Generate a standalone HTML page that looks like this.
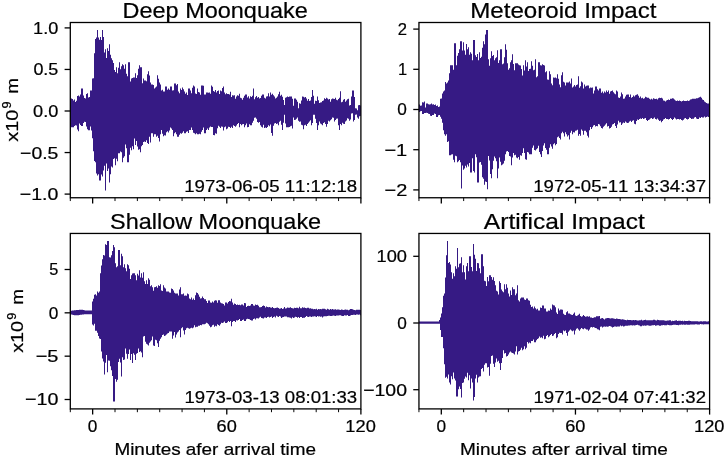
<!DOCTYPE html>
<html><head><meta charset="utf-8"><style>
html,body{margin:0;padding:0;background:#fff;}
svg{display:block;filter:blur(0.35px);}
text{font-family:"Liberation Sans",sans-serif;font-kerning:none;fill:#000;stroke:#000;stroke-width:0.22px;}
</style></head><body>
<svg width="725" height="457" viewBox="0 0 725 457">
<rect width="725" height="457" fill="#fff"/>
<path fill="#361a84" d="M70.30 98.52 L71.00 98.52 L71.00 98.52 L72.00 98.52 L72.00 98.91 L73.00 98.91 L73.00 100.60 L74.00 100.60 L74.00 99.53 L75.00 99.53 L75.00 101.88 L76.00 101.88 L76.00 100.82 L77.00 100.82 L77.00 96.07 L78.00 96.07 L78.00 95.50 L79.00 95.50 L79.00 96.53 L80.00 96.53 L80.00 94.49 L81.00 94.49 L81.00 88.45 L82.00 88.45 L82.00 88.45 L83.00 88.45 L83.00 95.50 L84.00 95.50 L84.00 98.02 L85.00 98.02 L85.00 98.52 L86.00 98.52 L86.00 94.09 L87.00 94.09 L87.00 93.22 L88.00 93.22 L88.00 97.46 L89.00 97.46 L89.00 96.95 L90.00 96.95 L90.00 90.47 L91.00 90.47 L91.00 90.47 L92.00 90.47 L92.00 78.47 L93.00 78.47 L93.00 78.27 L94.00 78.27 L94.00 53.32 L95.00 53.32 L95.00 39.09 L96.00 39.09 L96.00 37.42 L97.00 37.42 L97.00 30.05 L98.00 30.05 L98.00 37.55 L99.00 37.55 L99.00 39.70 L100.00 39.70 L100.00 37.10 L101.00 37.10 L101.00 40.04 L102.00 40.04 L102.00 30.05 L103.00 30.05 L103.00 37.10 L104.00 37.10 L104.00 52.43 L105.00 52.43 L105.00 49.18 L106.00 49.18 L106.00 58.01 L107.00 58.01 L107.00 48.18 L108.00 48.18 L108.00 50.89 L109.00 50.89 L109.00 44.15 L110.00 44.15 L110.00 54.84 L111.00 54.84 L111.00 58.25 L112.00 58.25 L112.00 60.27 L113.00 60.27 L113.00 63.12 L114.00 63.12 L114.00 69.91 L115.00 69.91 L115.00 71.94 L116.00 71.94 L116.00 67.31 L117.00 67.31 L117.00 73.29 L118.00 73.29 L118.00 67.63 L119.00 67.63 L119.00 62.27 L120.00 62.27 L120.00 69.33 L121.00 69.33 L121.00 66.30 L122.00 66.30 L122.00 64.29 L123.00 64.29 L123.00 65.29 L124.00 65.29 L124.00 68.76 L125.00 68.76 L125.00 64.29 L126.00 64.29 L126.00 73.78 L127.00 73.78 L127.00 76.37 L128.00 76.37 L128.00 62.27 L129.00 62.27 L129.00 62.27 L130.00 62.27 L130.00 81.52 L131.00 81.52 L131.00 78.38 L132.00 78.38 L132.00 77.92 L133.00 77.92 L133.00 77.38 L134.00 77.38 L134.00 77.61 L135.00 77.61 L135.00 73.35 L136.00 73.35 L136.00 78.09 L137.00 78.09 L137.00 75.36 L138.00 75.36 L138.00 68.68 L139.00 68.68 L139.00 65.29 L140.00 65.29 L140.00 67.31 L141.00 67.31 L141.00 67.31 L142.00 67.31 L142.00 83.19 L143.00 83.19 L143.00 78.38 L144.00 78.38 L144.00 80.56 L145.00 80.56 L145.00 80.40 L146.00 80.40 L146.00 81.34 L147.00 81.34 L147.00 74.23 L148.00 74.23 L148.00 71.34 L149.00 71.34 L149.00 75.38 L150.00 75.38 L150.00 82.41 L151.00 82.41 L151.00 84.39 L152.00 84.39 L152.00 84.42 L153.00 84.42 L153.00 84.97 L154.00 84.97 L154.00 88.45 L155.00 88.45 L155.00 87.57 L156.00 87.57 L156.00 86.44 L157.00 86.44 L157.00 75.36 L158.00 75.36 L158.00 78.78 L159.00 78.78 L159.00 82.41 L160.00 82.41 L160.00 84.56 L161.00 84.56 L161.00 90.47 L162.00 90.47 L162.00 89.78 L163.00 89.78 L163.00 91.47 L164.00 91.47 L164.00 91.48 L165.00 91.48 L165.00 86.44 L166.00 86.44 L166.00 86.44 L167.00 86.44 L167.00 89.72 L168.00 89.72 L168.00 88.45 L169.00 88.45 L169.00 89.76 L170.00 89.76 L170.00 86.44 L171.00 86.44 L171.00 86.44 L172.00 86.44 L172.00 90.47 L173.00 90.47 L173.00 90.31 L174.00 90.31 L174.00 83.42 L175.00 83.42 L175.00 83.42 L176.00 83.42 L176.00 85.23 L177.00 85.23 L177.00 83.92 L178.00 83.92 L178.00 91.47 L179.00 91.47 L179.00 93.23 L180.00 93.23 L180.00 88.45 L181.00 88.45 L181.00 90.02 L182.00 90.02 L182.00 87.45 L183.00 87.45 L183.00 89.27 L184.00 89.27 L184.00 91.47 L185.00 91.47 L185.00 93.77 L186.00 93.77 L186.00 92.48 L187.00 92.48 L187.00 95.03 L188.00 95.03 L188.00 88.45 L189.00 88.45 L189.00 88.45 L190.00 88.45 L190.00 90.47 L191.00 90.47 L191.00 93.35 L192.00 93.35 L192.00 87.82 L193.00 87.82 L193.00 85.43 L194.00 85.43 L194.00 86.43 L195.00 86.43 L195.00 93.49 L196.00 93.49 L196.00 93.96 L197.00 93.96 L197.00 88.45 L198.00 88.45 L198.00 91.89 L199.00 91.89 L199.00 92.48 L200.00 92.48 L200.00 94.72 L201.00 94.72 L201.00 85.43 L202.00 85.43 L202.00 85.43 L203.00 85.43 L203.00 85.63 L204.00 85.63 L204.00 94.49 L205.00 94.49 L205.00 94.42 L206.00 94.42 L206.00 92.48 L207.00 92.48 L207.00 92.48 L208.00 92.48 L208.00 92.86 L209.00 92.86 L209.00 92.48 L210.00 92.48 L210.00 93.64 L211.00 93.64 L211.00 85.43 L212.00 85.43 L212.00 86.69 L213.00 86.69 L213.00 90.98 L214.00 90.98 L214.00 91.79 L215.00 91.79 L215.00 89.88 L216.00 89.88 L216.00 92.50 L217.00 92.50 L217.00 90.95 L218.00 90.95 L218.00 90.53 L219.00 90.53 L219.00 94.01 L220.00 94.01 L220.00 90.53 L221.00 90.53 L221.00 91.19 L222.00 91.19 L222.00 87.91 L223.00 87.91 L223.00 86.59 L224.00 86.59 L224.00 92.50 L225.00 92.50 L225.00 94.28 L226.00 94.28 L226.00 93.16 L227.00 93.16 L227.00 94.07 L228.00 94.07 L228.00 94.08 L229.00 94.08 L229.00 94.47 L230.00 94.47 L230.00 91.85 L231.00 91.85 L231.00 97.07 L232.00 97.07 L232.00 95.13 L233.00 95.13 L233.00 95.47 L234.00 95.47 L234.00 95.13 L235.00 95.13 L235.00 98.68 L236.00 98.68 L236.00 96.44 L237.00 96.44 L237.00 95.13 L238.00 95.13 L238.00 95.68 L239.00 95.68 L239.00 93.82 L240.00 93.82 L240.00 97.75 L241.00 97.75 L241.00 98.27 L242.00 98.27 L242.00 99.86 L243.00 99.86 L243.00 97.69 L244.00 97.69 L244.00 95.78 L245.00 95.78 L245.00 94.47 L246.00 94.47 L246.00 94.58 L247.00 94.58 L247.00 97.48 L248.00 97.48 L248.00 96.17 L249.00 96.17 L249.00 98.41 L250.00 98.41 L250.00 96.25 L251.00 96.25 L251.00 97.10 L252.00 97.10 L252.00 95.78 L253.00 95.78 L253.00 88.56 L254.00 88.56 L254.00 99.27 L255.00 99.27 L255.00 97.30 L256.00 97.30 L256.00 95.90 L257.00 95.90 L257.00 97.75 L258.00 97.75 L258.00 96.96 L259.00 96.96 L259.00 98.61 L260.00 98.61 L260.00 97.92 L261.00 97.92 L261.00 95.66 L262.00 95.66 L262.00 94.47 L263.00 94.47 L263.00 94.47 L264.00 94.47 L264.00 97.75 L265.00 97.75 L265.00 98.41 L266.00 98.41 L266.00 96.40 L267.00 96.40 L267.00 96.32 L268.00 96.32 L268.00 93.27 L269.00 93.27 L269.00 96.44 L270.00 96.44 L270.00 92.50 L271.00 92.50 L271.00 94.81 L272.00 94.81 L272.00 93.82 L273.00 93.82 L273.00 95.13 L274.00 95.13 L274.00 96.44 L275.00 96.44 L275.00 98.59 L276.00 98.59 L276.00 97.75 L277.00 97.75 L277.00 96.44 L278.00 96.44 L278.00 94.26 L279.00 94.26 L279.00 91.85 L280.00 91.85 L280.00 95.77 L281.00 95.77 L281.00 94.71 L282.00 94.71 L282.00 96.87 L283.00 96.87 L283.00 100.12 L284.00 100.12 L284.00 104.97 L285.00 104.97 L285.00 97.75 L286.00 97.75 L286.00 97.17 L287.00 97.17 L287.00 96.44 L288.00 96.44 L288.00 97.10 L289.00 97.10 L289.00 96.44 L290.00 96.44 L290.00 96.44 L291.00 96.44 L291.00 96.44 L292.00 96.44 L292.00 98.79 L293.00 98.79 L293.00 105.63 L294.00 105.63 L294.00 98.41 L295.00 98.41 L295.00 98.41 L296.00 98.41 L296.00 99.72 L297.00 99.72 L297.00 101.69 L298.00 101.69 L298.00 108.26 L299.00 108.26 L299.00 103.19 L300.00 103.19 L300.00 103.66 L301.00 103.66 L301.00 100.38 L302.00 100.38 L302.00 96.44 L303.00 96.44 L303.00 96.78 L304.00 96.78 L304.00 97.57 L305.00 97.57 L305.00 97.10 L306.00 97.10 L306.00 98.41 L307.00 98.41 L307.00 100.79 L308.00 100.79 L308.00 99.07 L309.00 99.07 L309.00 101.04 L310.00 101.04 L310.00 100.38 L311.00 100.38 L311.00 96.99 L312.00 96.99 L312.00 89.88 L313.00 89.88 L313.00 95.78 L314.00 95.78 L314.00 103.66 L315.00 103.66 L315.00 100.84 L316.00 100.84 L316.00 101.03 L317.00 101.03 L317.00 96.44 L318.00 96.44 L318.00 100.26 L319.00 100.26 L319.00 103.01 L320.00 103.01 L320.00 102.39 L321.00 102.39 L321.00 102.33 L322.00 102.33 L322.00 101.04 L323.00 101.04 L323.00 100.38 L324.00 100.38 L324.00 98.17 L325.00 98.17 L325.00 99.07 L326.00 99.07 L326.00 97.75 L327.00 97.75 L327.00 98.41 L328.00 98.41 L328.00 99.52 L329.00 99.52 L329.00 99.00 L330.00 99.00 L330.00 101.69 L331.00 101.69 L331.00 99.29 L332.00 99.29 L332.00 98.41 L333.00 98.41 L333.00 98.86 L334.00 98.86 L334.00 99.07 L335.00 99.07 L335.00 97.75 L336.00 97.75 L336.00 99.72 L337.00 99.72 L337.00 100.26 L338.00 100.26 L338.00 99.07 L339.00 99.07 L339.00 97.73 L340.00 97.73 L340.00 91.19 L341.00 91.19 L341.00 102.19 L342.00 102.19 L342.00 101.69 L343.00 101.69 L343.00 99.72 L344.00 99.72 L344.00 99.07 L345.00 99.07 L345.00 101.79 L346.00 101.79 L346.00 100.38 L347.00 100.38 L347.00 99.30 L348.00 99.30 L348.00 98.72 L349.00 98.72 L349.00 105.45 L350.00 105.45 L350.00 104.97 L351.00 104.97 L351.00 96.44 L352.00 96.44 L352.00 90.53 L353.00 90.53 L353.00 90.53 L354.00 90.53 L354.00 96.93 L355.00 96.93 L355.00 108.26 L356.00 108.26 L356.00 108.40 L357.00 108.40 L357.00 110.20 L358.00 110.20 L358.00 105.25 L359.00 105.25 L359.00 104.97 L360.00 104.97 L360.00 105.43 L360.90 105.43 L360.90 115.96 L360.00 115.96 L360.00 116.13 L359.00 116.13 L359.00 118.76 L358.00 118.76 L358.00 117.45 L357.00 117.45 L357.00 114.44 L356.00 114.44 L356.00 114.82 L355.00 114.82 L355.00 120.07 L354.00 120.07 L354.00 121.39 L353.00 121.39 L353.00 113.34 L352.00 113.34 L352.00 113.51 L351.00 113.51 L351.00 119.42 L350.00 119.42 L350.00 120.73 L349.00 120.73 L349.00 118.76 L348.00 118.76 L348.00 118.37 L347.00 118.37 L347.00 120.51 L346.00 120.51 L346.00 121.39 L345.00 121.39 L345.00 124.01 L344.00 124.01 L344.00 123.84 L343.00 123.84 L343.00 122.70 L342.00 122.70 L342.00 125.32 L341.00 125.32 L341.00 124.01 L340.00 124.01 L340.00 129.92 L339.00 129.92 L339.00 125.32 L338.00 125.32 L338.00 118.62 L337.00 118.62 L337.00 118.76 L336.00 118.76 L336.00 120.07 L335.00 120.07 L335.00 121.39 L334.00 121.39 L334.00 117.77 L333.00 117.77 L333.00 117.45 L332.00 117.45 L332.00 119.27 L331.00 119.27 L331.00 120.36 L330.00 120.36 L330.00 121.39 L329.00 121.39 L329.00 120.76 L328.00 120.76 L328.00 124.01 L327.00 124.01 L327.00 126.64 L326.00 126.64 L326.00 124.01 L325.00 124.01 L325.00 122.27 L324.00 122.27 L324.00 122.91 L323.00 122.91 L323.00 125.32 L322.00 125.32 L322.00 124.27 L321.00 124.27 L321.00 123.62 L320.00 123.62 L320.00 121.39 L319.00 121.39 L319.00 125.32 L318.00 125.32 L318.00 129.92 L317.00 129.92 L317.00 122.88 L316.00 122.88 L316.00 118.79 L315.00 118.79 L315.00 114.80 L314.00 114.80 L314.00 114.82 L313.00 114.82 L313.00 123.12 L312.00 123.12 L312.00 125.32 L311.00 125.32 L311.00 120.30 L310.00 120.30 L310.00 121.39 L309.00 121.39 L309.00 122.81 L308.00 122.81 L308.00 124.01 L307.00 124.01 L307.00 125.98 L306.00 125.98 L306.00 124.79 L305.00 124.79 L305.00 125.32 L304.00 125.32 L304.00 129.26 L303.00 129.26 L303.00 125.32 L302.00 125.32 L302.00 124.65 L301.00 124.65 L301.00 121.39 L300.00 121.39 L300.00 121.72 L299.00 121.72 L299.00 120.73 L298.00 120.73 L298.00 117.45 L297.00 117.45 L297.00 118.76 L296.00 118.76 L296.00 119.76 L295.00 119.76 L295.00 120.07 L294.00 120.07 L294.00 117.53 L293.00 117.53 L293.00 128.61 L292.00 128.61 L292.00 125.63 L291.00 125.63 L291.00 126.20 L290.00 126.20 L290.00 126.99 L289.00 126.99 L289.00 127.29 L288.00 127.29 L288.00 127.13 L287.00 127.13 L287.00 127.29 L286.00 127.29 L286.00 123.56 L285.00 123.56 L285.00 114.82 L284.00 114.82 L284.00 122.70 L283.00 122.70 L283.00 129.92 L282.00 129.92 L282.00 124.71 L281.00 124.71 L281.00 120.71 L280.00 120.71 L280.00 121.87 L279.00 121.87 L279.00 125.32 L278.00 125.32 L278.00 123.50 L277.00 123.50 L277.00 124.01 L276.00 124.01 L276.00 123.00 L275.00 123.00 L275.00 123.48 L274.00 123.48 L274.00 125.79 L273.00 125.79 L273.00 135.83 L272.00 135.83 L272.00 133.02 L271.00 133.02 L271.00 124.38 L270.00 124.38 L270.00 126.24 L269.00 126.24 L269.00 125.32 L268.00 125.32 L268.00 126.88 L267.00 126.88 L267.00 127.95 L266.00 127.95 L266.00 127.40 L265.00 127.40 L265.00 127.95 L264.00 127.95 L264.00 124.86 L263.00 124.86 L263.00 127.60 L262.00 127.60 L262.00 126.64 L261.00 126.64 L261.00 125.32 L260.00 125.32 L260.00 122.08 L259.00 122.08 L259.00 122.70 L258.00 122.70 L258.00 121.89 L257.00 121.89 L257.00 118.76 L256.00 118.76 L256.00 117.45 L255.00 117.45 L255.00 117.67 L254.00 117.67 L254.00 120.73 L253.00 120.73 L253.00 122.70 L252.00 122.70 L252.00 125.32 L251.00 125.32 L251.00 125.22 L250.00 125.22 L250.00 124.19 L249.00 124.19 L249.00 127.11 L248.00 127.11 L248.00 127.29 L247.00 127.29 L247.00 123.40 L246.00 123.40 L246.00 125.32 L245.00 125.32 L245.00 127.29 L244.00 127.29 L244.00 124.01 L243.00 124.01 L243.00 124.21 L242.00 124.21 L242.00 125.32 L241.00 125.32 L241.00 124.01 L240.00 124.01 L240.00 127.29 L239.00 127.29 L239.00 122.92 L238.00 122.92 L238.00 124.01 L237.00 124.01 L237.00 125.59 L236.00 125.59 L236.00 126.64 L235.00 126.64 L235.00 125.98 L234.00 125.98 L234.00 125.29 L233.00 125.29 L233.00 127.95 L232.00 127.95 L232.00 126.64 L231.00 126.64 L231.00 127.95 L230.00 127.95 L230.00 127.12 L229.00 127.12 L229.00 126.64 L228.00 126.64 L228.00 128.61 L227.00 128.61 L227.00 129.29 L226.00 129.29 L226.00 126.49 L225.00 126.49 L225.00 127.29 L224.00 127.29 L224.00 130.58 L223.00 130.58 L223.00 126.64 L222.00 126.64 L222.00 126.49 L221.00 126.49 L221.00 127.95 L220.00 127.95 L220.00 126.64 L219.00 126.64 L219.00 125.67 L218.00 125.67 L218.00 128.17 L217.00 128.17 L217.00 133.86 L216.00 133.86 L216.00 133.20 L215.00 133.20 L215.00 135.28 L214.00 135.28 L214.00 135.06 L213.00 135.06 L213.00 127.03 L212.00 127.03 L212.00 127.00 L211.00 127.00 L211.00 126.48 L210.00 126.48 L210.00 127.52 L209.00 127.52 L209.00 130.10 L208.00 130.10 L208.00 128.55 L207.00 128.55 L207.00 130.10 L206.00 130.10 L206.00 133.21 L205.00 133.21 L205.00 133.21 L204.00 133.21 L204.00 127.52 L203.00 127.52 L203.00 130.10 L202.00 130.10 L202.00 131.65 L201.00 131.65 L201.00 134.24 L200.00 134.24 L200.00 133.72 L199.00 133.72 L199.00 134.24 L198.00 134.24 L198.00 134.24 L197.00 134.24 L197.00 133.21 L196.00 133.21 L196.00 134.24 L195.00 134.24 L195.00 133.21 L194.00 133.21 L194.00 132.69 L193.00 132.69 L193.00 130.10 L192.00 130.10 L192.00 127.52 L191.00 127.52 L191.00 130.12 L190.00 130.12 L190.00 130.10 L189.00 130.10 L189.00 133.10 L188.00 133.10 L188.00 131.14 L187.00 131.14 L187.00 131.65 L186.00 131.65 L186.00 133.21 L185.00 133.21 L185.00 133.21 L184.00 133.21 L184.00 131.28 L183.00 131.28 L183.00 132.69 L182.00 132.69 L182.00 133.72 L181.00 133.72 L181.00 133.21 L180.00 133.21 L180.00 134.76 L179.00 134.76 L179.00 136.83 L178.00 136.83 L178.00 136.83 L177.00 136.83 L177.00 134.24 L176.00 134.24 L176.00 132.17 L175.00 132.17 L175.00 133.21 L174.00 133.21 L174.00 136.31 L173.00 136.31 L173.00 130.10 L172.00 130.10 L172.00 128.55 L171.00 128.55 L171.00 127.58 L170.00 127.58 L170.00 130.62 L169.00 130.62 L169.00 132.62 L168.00 132.62 L168.00 131.14 L167.00 131.14 L167.00 132.17 L166.00 132.17 L166.00 135.46 L165.00 135.46 L165.00 135.28 L164.00 135.28 L164.00 136.31 L163.00 136.31 L163.00 133.72 L162.00 133.72 L162.00 130.10 L161.00 130.10 L161.00 134.24 L160.00 134.24 L160.00 141.48 L159.00 141.48 L159.00 137.99 L158.00 137.99 L158.00 135.79 L157.00 135.79 L157.00 136.83 L156.00 136.83 L156.00 134.29 L155.00 134.29 L155.00 134.24 L154.00 134.24 L154.00 136.83 L153.00 136.83 L153.00 133.28 L152.00 133.28 L152.00 133.33 L151.00 133.33 L151.00 142.52 L150.00 142.52 L150.00 136.83 L149.00 136.83 L149.00 144.07 L148.00 144.07 L148.00 143.03 L147.00 143.03 L147.00 140.19 L146.00 140.19 L146.00 142.00 L145.00 142.00 L145.00 141.48 L144.00 141.48 L144.00 142.11 L143.00 142.11 L143.00 145.10 L142.00 145.10 L142.00 146.14 L141.00 146.14 L141.00 152.34 L140.00 152.34 L140.00 149.28 L139.00 149.28 L139.00 149.76 L138.00 149.76 L138.00 146.39 L137.00 146.39 L137.00 140.88 L136.00 140.88 L136.00 144.96 L135.00 144.96 L135.00 138.57 L134.00 138.57 L134.00 149.15 L133.00 149.15 L133.00 146.16 L132.00 146.16 L132.00 150.29 L131.00 150.29 L131.00 147.77 L130.00 147.77 L130.00 154.85 L129.00 154.85 L129.00 162.37 L128.00 162.37 L128.00 162.37 L127.00 162.37 L127.00 148.27 L126.00 148.27 L126.00 144.50 L125.00 144.50 L125.00 156.33 L124.00 156.33 L124.00 157.72 L123.00 157.72 L123.00 162.37 L122.00 162.37 L122.00 152.30 L121.00 152.30 L121.00 151.44 L120.00 151.44 L120.00 153.31 L119.00 153.31 L119.00 153.22 L118.00 153.22 L118.00 161.36 L117.00 161.36 L117.00 158.73 L116.00 158.73 L116.00 165.27 L115.00 165.27 L115.00 158.34 L114.00 158.34 L114.00 159.04 L113.00 159.04 L113.00 167.55 L112.00 167.55 L112.00 166.56 L111.00 166.56 L111.00 174.13 L110.00 174.13 L110.00 182.51 L109.00 182.51 L109.00 168.41 L108.00 168.41 L108.00 171.02 L107.00 171.02 L107.00 163.52 L106.00 163.52 L106.00 190.56 L105.00 190.56 L105.00 165.83 L104.00 165.83 L104.00 170.42 L103.00 170.42 L103.00 176.47 L102.00 176.47 L102.00 174.38 L101.00 174.38 L101.00 180.49 L100.00 180.49 L100.00 180.49 L99.00 180.49 L99.00 174.20 L98.00 174.20 L98.00 175.46 L97.00 175.46 L97.00 173.45 L96.00 173.45 L96.00 162.37 L95.00 162.37 L95.00 160.91 L94.00 160.91 L94.00 151.29 L93.00 151.29 L93.00 138.20 L92.00 138.20 L92.00 130.44 L91.00 130.44 L91.00 126.45 L90.00 126.45 L90.00 130.15 L89.00 130.15 L89.00 130.15 L88.00 130.15 L88.00 129.20 L87.00 129.20 L87.00 126.61 L86.00 126.61 L86.00 122.10 L85.00 122.10 L85.00 121.75 L84.00 121.75 L84.00 123.10 L83.00 123.10 L83.00 126.12 L82.00 126.12 L82.00 126.12 L81.00 126.12 L81.00 124.88 L80.00 124.88 L80.00 123.47 L79.00 123.47 L79.00 131.16 L78.00 131.16 L78.00 129.55 L77.00 129.55 L77.00 125.43 L76.00 125.43 L76.00 125.30 L75.00 125.30 L75.00 126.12 L74.00 126.12 L74.00 127.13 L73.00 127.13 L73.00 127.13 L72.00 127.13 L72.00 127.13 L71.00 127.13 L71.00 126.12 L70.30 126.12Z"/>
<path fill="#361a84" d="M418.95 104.56 L419.00 104.56 L419.00 104.56 L420.00 104.56 L420.00 105.65 L421.00 105.65 L421.00 105.57 L422.00 105.57 L422.00 102.28 L423.00 102.28 L423.00 102.55 L424.00 102.55 L424.00 101.54 L425.00 101.54 L425.00 107.58 L426.00 107.58 L426.00 103.39 L427.00 103.39 L427.00 103.55 L428.00 103.55 L428.00 104.18 L429.00 104.18 L429.00 104.56 L430.00 104.56 L430.00 104.24 L431.00 104.24 L431.00 103.55 L432.00 103.55 L432.00 104.39 L433.00 104.39 L433.00 104.17 L434.00 104.17 L434.00 105.08 L435.00 105.08 L435.00 104.56 L436.00 104.56 L436.00 105.92 L437.00 105.92 L437.00 105.53 L438.00 105.53 L438.00 106.88 L439.00 106.88 L439.00 106.58 L440.00 106.58 L440.00 98.66 L441.00 98.66 L441.00 98.52 L442.00 98.52 L442.00 93.49 L443.00 93.49 L443.00 91.61 L444.00 91.61 L444.00 90.47 L445.00 90.47 L445.00 82.03 L446.00 82.03 L446.00 83.42 L447.00 83.42 L447.00 82.41 L448.00 82.41 L448.00 80.40 L449.00 80.40 L449.00 73.35 L450.00 73.35 L450.00 65.29 L451.00 65.29 L451.00 65.29 L452.00 65.29 L452.00 65.29 L453.00 65.29 L453.00 69.66 L454.00 69.66 L454.00 43.14 L455.00 43.14 L455.00 43.14 L456.00 43.14 L456.00 65.29 L457.00 65.29 L457.00 55.68 L458.00 55.68 L458.00 52.91 L459.00 52.91 L459.00 49.33 L460.00 49.33 L460.00 41.13 L461.00 41.13 L461.00 41.13 L462.00 41.13 L462.00 50.40 L463.00 50.40 L463.00 42.14 L464.00 42.14 L464.00 50.48 L465.00 50.48 L465.00 54.63 L466.00 54.63 L466.00 44.12 L467.00 44.12 L467.00 49.26 L468.00 49.26 L468.00 47.17 L469.00 47.17 L469.00 54.78 L470.00 54.78 L470.00 52.21 L471.00 52.21 L471.00 53.72 L472.00 53.72 L472.00 60.26 L473.00 60.26 L473.00 40.12 L474.00 40.12 L474.00 40.12 L475.00 40.12 L475.00 55.16 L476.00 55.16 L476.00 56.94 L477.00 56.94 L477.00 53.95 L478.00 53.95 L478.00 60.16 L479.00 60.16 L479.00 52.21 L480.00 52.21 L480.00 58.01 L481.00 58.01 L481.00 56.84 L482.00 56.84 L482.00 47.75 L483.00 47.75 L483.00 41.13 L484.00 41.13 L484.00 44.25 L485.00 44.25 L485.00 34.40 L486.00 34.40 L486.00 30.05 L487.00 30.05 L487.00 30.05 L488.00 30.05 L488.00 59.25 L489.00 59.25 L489.00 65.87 L490.00 65.87 L490.00 58.25 L491.00 58.25 L491.00 51.20 L492.00 51.20 L492.00 55.95 L493.00 55.95 L493.00 55.12 L494.00 55.12 L494.00 60.18 L495.00 60.18 L495.00 58.15 L496.00 58.15 L496.00 57.14 L497.00 57.14 L497.00 50.19 L498.00 50.19 L498.00 63.08 L499.00 63.08 L499.00 60.26 L500.00 60.26 L500.00 49.18 L501.00 49.18 L501.00 49.18 L502.00 49.18 L502.00 64.29 L503.00 64.29 L503.00 63.40 L504.00 63.40 L504.00 57.24 L505.00 57.24 L505.00 44.15 L506.00 44.15 L506.00 49.86 L507.00 49.86 L507.00 63.16 L508.00 63.16 L508.00 69.66 L509.00 69.66 L509.00 68.31 L510.00 68.31 L510.00 62.31 L511.00 62.31 L511.00 60.26 L512.00 60.26 L512.00 54.22 L513.00 54.22 L513.00 63.88 L514.00 63.88 L514.00 70.29 L515.00 70.29 L515.00 63.28 L516.00 63.28 L516.00 63.28 L517.00 63.28 L517.00 63.28 L518.00 63.28 L518.00 64.58 L519.00 64.58 L519.00 65.29 L520.00 65.29 L520.00 65.60 L521.00 65.60 L521.00 69.10 L522.00 69.10 L522.00 75.39 L523.00 75.39 L523.00 65.29 L524.00 65.29 L524.00 70.58 L525.00 70.58 L525.00 60.26 L526.00 60.26 L526.00 66.48 L527.00 66.48 L527.00 62.27 L528.00 62.27 L528.00 70.92 L529.00 70.92 L529.00 69.01 L530.00 69.01 L530.00 68.78 L531.00 68.78 L531.00 61.27 L532.00 61.27 L532.00 65.87 L533.00 65.87 L533.00 70.33 L534.00 70.33 L534.00 69.71 L535.00 69.71 L535.00 59.25 L536.00 59.25 L536.00 77.18 L537.00 77.18 L537.00 76.37 L538.00 76.37 L538.00 62.27 L539.00 62.27 L539.00 62.27 L540.00 62.27 L540.00 65.29 L541.00 65.29 L541.00 65.47 L542.00 65.47 L542.00 64.29 L543.00 64.29 L543.00 65.09 L544.00 65.09 L544.00 65.50 L545.00 65.50 L545.00 72.34 L546.00 72.34 L546.00 71.26 L547.00 71.26 L547.00 79.39 L548.00 79.39 L548.00 79.86 L549.00 79.86 L549.00 71.34 L550.00 71.34 L550.00 74.25 L551.00 74.25 L551.00 83.42 L552.00 83.42 L552.00 85.18 L553.00 85.18 L553.00 77.38 L554.00 77.38 L554.00 77.82 L555.00 77.82 L555.00 77.38 L556.00 77.38 L556.00 78.29 L557.00 78.29 L557.00 74.36 L558.00 74.36 L558.00 78.83 L559.00 78.83 L559.00 84.42 L560.00 84.42 L560.00 87.33 L561.00 87.33 L561.00 75.16 L562.00 75.16 L562.00 72.34 L563.00 72.34 L563.00 81.73 L564.00 81.73 L564.00 82.41 L565.00 82.41 L565.00 85.49 L566.00 85.49 L566.00 82.58 L567.00 82.58 L567.00 82.41 L568.00 82.41 L568.00 82.41 L569.00 82.41 L569.00 81.55 L570.00 81.55 L570.00 83.42 L571.00 83.42 L571.00 78.38 L572.00 78.38 L572.00 87.58 L573.00 87.58 L573.00 86.44 L574.00 86.44 L574.00 84.88 L575.00 84.88 L575.00 86.44 L576.00 86.44 L576.00 85.01 L577.00 85.01 L577.00 84.42 L578.00 84.42 L578.00 76.37 L579.00 76.37 L579.00 87.80 L580.00 87.80 L580.00 86.13 L581.00 86.13 L581.00 81.41 L582.00 81.41 L582.00 82.41 L583.00 82.41 L583.00 88.42 L584.00 88.42 L584.00 84.42 L585.00 84.42 L585.00 86.48 L586.00 86.48 L586.00 85.63 L587.00 85.63 L587.00 85.43 L588.00 85.43 L588.00 85.43 L589.00 85.43 L589.00 88.24 L590.00 88.24 L590.00 87.45 L591.00 87.45 L591.00 87.84 L592.00 87.84 L592.00 87.45 L593.00 87.45 L593.00 93.50 L594.00 93.50 L594.00 90.47 L595.00 90.47 L595.00 86.44 L596.00 86.44 L596.00 86.44 L597.00 86.44 L597.00 89.32 L598.00 89.32 L598.00 90.47 L599.00 90.47 L599.00 88.45 L600.00 88.45 L600.00 88.45 L601.00 88.45 L601.00 92.87 L602.00 92.87 L602.00 91.47 L603.00 91.47 L603.00 93.15 L604.00 93.15 L604.00 91.47 L605.00 91.47 L605.00 92.49 L606.00 92.49 L606.00 90.47 L607.00 90.47 L607.00 91.97 L608.00 91.97 L608.00 90.47 L609.00 90.47 L609.00 93.70 L610.00 93.70 L610.00 91.47 L611.00 91.47 L611.00 91.06 L612.00 91.06 L612.00 90.47 L613.00 90.47 L613.00 92.23 L614.00 92.23 L614.00 93.49 L615.00 93.49 L615.00 94.16 L616.00 94.16 L616.00 90.47 L617.00 90.47 L617.00 91.54 L618.00 91.54 L618.00 97.51 L619.00 97.51 L619.00 97.99 L620.00 97.99 L620.00 96.51 L621.00 96.51 L621.00 92.48 L622.00 92.48 L622.00 94.29 L623.00 94.29 L623.00 98.82 L624.00 98.82 L624.00 98.52 L625.00 98.52 L625.00 96.50 L626.00 96.50 L626.00 94.71 L627.00 94.71 L627.00 94.49 L628.00 94.49 L628.00 94.49 L629.00 94.49 L629.00 96.89 L630.00 96.89 L630.00 94.49 L631.00 94.49 L631.00 97.86 L632.00 97.86 L632.00 97.07 L633.00 97.07 L633.00 95.48 L634.00 95.48 L634.00 96.51 L635.00 96.51 L635.00 95.24 L636.00 95.24 L636.00 94.72 L637.00 94.72 L637.00 94.21 L638.00 94.21 L638.00 95.64 L639.00 95.64 L639.00 97.83 L640.00 97.83 L640.00 96.43 L641.00 96.43 L641.00 98.34 L642.00 98.34 L642.00 97.83 L643.00 97.83 L643.00 98.86 L644.00 98.86 L644.00 98.34 L645.00 98.34 L645.00 96.79 L646.00 96.79 L646.00 97.31 L647.00 97.31 L647.00 97.83 L648.00 97.83 L648.00 97.65 L649.00 97.65 L649.00 98.86 L650.00 98.86 L650.00 99.38 L651.00 99.38 L651.00 98.86 L652.00 98.86 L652.00 99.38 L653.00 99.38 L653.00 98.34 L654.00 98.34 L654.00 98.86 L655.00 98.86 L655.00 98.89 L656.00 98.89 L656.00 98.86 L657.00 98.86 L657.00 99.38 L658.00 99.38 L658.00 98.34 L659.00 98.34 L659.00 97.83 L660.00 97.83 L660.00 98.09 L661.00 98.09 L661.00 97.83 L662.00 97.83 L662.00 98.50 L663.00 98.50 L663.00 100.41 L664.00 100.41 L664.00 100.80 L665.00 100.80 L665.00 101.44 L666.00 101.44 L666.00 100.41 L667.00 100.41 L667.00 99.90 L668.00 99.90 L668.00 99.38 L669.00 99.38 L669.00 99.90 L670.00 99.90 L670.00 98.86 L671.00 98.86 L671.00 98.86 L672.00 98.86 L672.00 98.34 L673.00 98.34 L673.00 98.44 L674.00 98.44 L674.00 99.38 L675.00 99.38 L675.00 100.41 L676.00 100.41 L676.00 100.93 L677.00 100.93 L677.00 100.41 L678.00 100.41 L678.00 100.93 L679.00 100.93 L679.00 100.41 L680.00 100.41 L680.00 100.93 L681.00 100.93 L681.00 101.45 L682.00 101.45 L682.00 100.93 L683.00 100.93 L683.00 100.41 L684.00 100.41 L684.00 100.93 L685.00 100.93 L685.00 101.01 L686.00 101.01 L686.00 100.93 L687.00 100.93 L687.00 100.41 L688.00 100.41 L688.00 100.93 L689.00 100.93 L689.00 100.41 L690.00 100.41 L690.00 99.38 L691.00 99.38 L691.00 99.30 L692.00 99.30 L692.00 98.86 L693.00 98.86 L693.00 98.86 L694.00 98.86 L694.00 98.75 L695.00 98.75 L695.00 98.77 L696.00 98.77 L696.00 98.34 L697.00 98.34 L697.00 98.34 L698.00 98.34 L698.00 97.83 L699.00 97.83 L699.00 97.31 L700.00 97.31 L700.00 96.79 L701.00 96.79 L701.00 97.83 L702.00 97.83 L702.00 99.38 L703.00 99.38 L703.00 99.90 L704.00 99.90 L704.00 101.45 L705.00 101.45 L705.00 102.34 L706.00 102.34 L706.00 103.00 L707.00 103.00 L707.00 103.52 L708.00 103.52 L708.00 103.55 L709.00 103.55 L709.00 103.52 L709.60 103.52 L709.60 116.05 L709.00 116.05 L709.00 116.96 L708.00 116.96 L708.00 116.47 L707.00 116.47 L707.00 116.96 L706.00 116.96 L706.00 117.48 L705.00 117.48 L705.00 116.45 L704.00 116.45 L704.00 117.48 L703.00 117.48 L703.00 117.48 L702.00 117.48 L702.00 116.96 L701.00 116.96 L701.00 118.00 L700.00 118.00 L700.00 117.48 L699.00 117.48 L699.00 119.03 L698.00 119.03 L698.00 119.03 L697.00 119.03 L697.00 118.62 L696.00 118.62 L696.00 117.02 L695.00 117.02 L695.00 117.48 L694.00 117.48 L694.00 118.63 L693.00 118.63 L693.00 118.83 L692.00 118.83 L692.00 119.03 L691.00 119.03 L691.00 118.00 L690.00 118.00 L690.00 117.48 L689.00 117.48 L689.00 118.97 L688.00 118.97 L688.00 119.55 L687.00 119.55 L687.00 119.03 L686.00 119.03 L686.00 118.00 L685.00 118.00 L685.00 118.52 L684.00 118.52 L684.00 119.72 L683.00 119.72 L683.00 120.59 L682.00 120.59 L682.00 120.07 L681.00 120.07 L681.00 119.03 L680.00 119.03 L680.00 119.55 L679.00 119.55 L679.00 118.97 L678.00 118.97 L678.00 119.03 L677.00 119.03 L677.00 119.55 L676.00 119.55 L676.00 118.52 L675.00 118.52 L675.00 117.48 L674.00 117.48 L674.00 119.03 L673.00 119.03 L673.00 120.07 L672.00 120.07 L672.00 119.03 L671.00 119.03 L671.00 118.00 L670.00 118.00 L670.00 118.91 L669.00 118.91 L669.00 119.55 L668.00 119.55 L668.00 119.03 L667.00 119.03 L667.00 118.89 L666.00 118.89 L666.00 118.09 L665.00 118.09 L665.00 119.03 L664.00 119.03 L664.00 119.55 L663.00 119.55 L663.00 121.10 L662.00 121.10 L662.00 122.14 L661.00 122.14 L661.00 120.40 L660.00 120.40 L660.00 121.10 L659.00 121.10 L659.00 119.72 L658.00 119.72 L658.00 118.52 L657.00 118.52 L657.00 119.55 L656.00 119.55 L656.00 119.03 L655.00 119.03 L655.00 117.48 L654.00 117.48 L654.00 118.52 L653.00 118.52 L653.00 119.03 L652.00 119.03 L652.00 118.00 L651.00 118.00 L651.00 118.52 L650.00 118.52 L650.00 119.58 L649.00 119.58 L649.00 120.07 L648.00 120.07 L648.00 121.10 L647.00 121.10 L647.00 119.89 L646.00 119.89 L646.00 118.00 L645.00 118.00 L645.00 118.52 L644.00 118.52 L644.00 119.03 L643.00 119.03 L643.00 118.00 L642.00 118.00 L642.00 119.03 L641.00 119.03 L641.00 118.52 L640.00 118.52 L640.00 119.03 L639.00 119.03 L639.00 120.07 L638.00 120.07 L638.00 119.55 L637.00 119.55 L637.00 121.11 L636.00 121.11 L636.00 124.21 L635.00 124.21 L635.00 123.64 L634.00 123.64 L634.00 120.34 L633.00 120.34 L633.00 120.86 L632.00 120.86 L632.00 121.90 L631.00 121.90 L631.00 120.86 L630.00 120.86 L630.00 121.38 L629.00 121.38 L629.00 122.65 L628.00 122.65 L628.00 122.93 L627.00 122.93 L627.00 122.41 L626.00 122.41 L626.00 121.38 L625.00 121.38 L625.00 122.93 L624.00 122.93 L624.00 122.53 L623.00 122.53 L623.00 123.45 L622.00 123.45 L622.00 125.00 L621.00 125.00 L621.00 122.32 L620.00 122.32 L620.00 122.41 L619.00 122.41 L619.00 120.86 L618.00 120.86 L618.00 124.46 L617.00 124.46 L617.00 128.10 L616.00 128.10 L616.00 126.02 L615.00 126.02 L615.00 122.93 L614.00 122.93 L614.00 123.96 L613.00 123.96 L613.00 124.48 L612.00 124.48 L612.00 126.84 L611.00 126.84 L611.00 128.10 L610.00 128.10 L610.00 128.62 L609.00 128.62 L609.00 126.03 L608.00 126.03 L608.00 126.38 L607.00 126.38 L607.00 123.37 L606.00 123.37 L606.00 124.48 L605.00 124.48 L605.00 125.69 L604.00 125.69 L604.00 126.70 L603.00 126.70 L603.00 128.62 L602.00 128.62 L602.00 128.10 L601.00 128.10 L601.00 126.16 L600.00 126.16 L600.00 124.48 L599.00 124.48 L599.00 123.96 L598.00 123.96 L598.00 126.17 L597.00 126.17 L597.00 126.03 L596.00 126.03 L596.00 126.55 L595.00 126.55 L595.00 125.00 L594.00 125.00 L594.00 125.52 L593.00 125.52 L593.00 127.30 L592.00 127.30 L592.00 128.96 L591.00 128.96 L591.00 127.00 L590.00 127.00 L590.00 130.17 L589.00 130.17 L589.00 137.41 L588.00 137.41 L588.00 135.64 L587.00 135.64 L587.00 132.24 L586.00 132.24 L586.00 130.69 L585.00 130.69 L585.00 130.69 L584.00 130.69 L584.00 134.76 L583.00 134.76 L583.00 130.86 L582.00 130.86 L582.00 129.57 L581.00 129.57 L581.00 135.86 L580.00 135.86 L580.00 133.97 L579.00 133.97 L579.00 135.74 L578.00 135.74 L578.00 129.65 L577.00 129.65 L577.00 130.61 L576.00 130.61 L576.00 130.69 L575.00 130.69 L575.00 132.60 L574.00 132.60 L574.00 132.24 L573.00 132.24 L573.00 134.31 L572.00 134.31 L572.00 130.69 L571.00 130.69 L571.00 132.77 L570.00 132.77 L570.00 139.48 L569.00 139.48 L569.00 135.34 L568.00 135.34 L568.00 136.38 L567.00 136.38 L567.00 134.31 L566.00 134.31 L566.00 132.24 L565.00 132.24 L565.00 136.38 L564.00 136.38 L564.00 133.17 L563.00 133.17 L563.00 131.72 L562.00 131.72 L562.00 133.27 L561.00 133.27 L561.00 139.48 L560.00 139.48 L560.00 137.95 L559.00 137.95 L559.00 136.48 L558.00 136.48 L558.00 137.20 L557.00 137.20 L557.00 144.12 L556.00 144.12 L556.00 145.25 L555.00 145.25 L555.00 143.28 L554.00 143.28 L554.00 144.37 L553.00 144.37 L553.00 148.75 L552.00 148.75 L552.00 146.56 L551.00 146.56 L551.00 144.37 L550.00 144.37 L550.00 147.65 L549.00 147.65 L549.00 154.21 L548.00 154.21 L548.00 154.21 L547.00 154.21 L547.00 149.84 L546.00 149.84 L546.00 148.05 L545.00 148.05 L545.00 143.28 L544.00 143.28 L544.00 145.50 L543.00 145.50 L543.00 150.93 L542.00 150.93 L542.00 156.95 L541.00 156.95 L541.00 154.21 L540.00 154.21 L540.00 152.03 L539.00 152.03 L539.00 145.80 L538.00 145.80 L538.00 148.19 L537.00 148.19 L537.00 149.37 L536.00 149.37 L536.00 150.39 L535.00 150.39 L535.00 150.04 L534.00 150.04 L534.00 145.47 L533.00 145.47 L533.00 147.65 L532.00 147.65 L532.00 154.21 L531.00 154.21 L531.00 154.21 L530.00 154.21 L530.00 154.21 L529.00 154.21 L529.00 152.57 L528.00 152.57 L528.00 152.03 L527.00 152.03 L527.00 159.68 L526.00 159.68 L526.00 159.13 L525.00 159.13 L525.00 153.12 L524.00 153.12 L524.00 148.20 L523.00 148.20 L523.00 153.12 L522.00 153.12 L522.00 155.85 L521.00 155.85 L521.00 155.31 L520.00 155.31 L520.00 159.68 L519.00 159.68 L519.00 156.95 L518.00 156.95 L518.00 158.15 L517.00 158.15 L517.00 157.49 L516.00 157.49 L516.00 154.72 L515.00 154.72 L515.00 155.31 L514.00 155.31 L514.00 153.12 L513.00 153.12 L513.00 157.49 L512.00 157.49 L512.00 165.14 L511.00 165.14 L511.00 156.40 L510.00 156.40 L510.00 156.11 L509.00 156.11 L509.00 152.03 L508.00 152.03 L508.00 150.93 L507.00 150.93 L507.00 151.48 L506.00 151.48 L506.00 154.21 L505.00 154.21 L505.00 160.77 L504.00 160.77 L504.00 163.50 L503.00 163.50 L503.00 164.60 L502.00 164.60 L502.00 165.14 L501.00 165.14 L501.00 161.87 L500.00 161.87 L500.00 157.49 L499.00 157.49 L499.00 168.42 L498.00 168.42 L498.00 178.26 L497.00 178.26 L497.00 161.19 L496.00 161.19 L496.00 158.24 L495.00 158.24 L495.00 156.40 L494.00 156.40 L494.00 160.77 L493.00 160.77 L493.00 169.29 L492.00 169.29 L492.00 178.26 L491.00 178.26 L491.00 174.02 L490.00 174.02 L490.00 160.40 L489.00 160.40 L489.00 156.11 L488.00 156.11 L488.00 189.20 L487.00 189.20 L487.00 182.09 L486.00 182.09 L486.00 181.54 L485.00 181.54 L485.00 184.82 L484.00 184.82 L484.00 178.81 L483.00 178.81 L483.00 177.17 L482.00 177.17 L482.00 164.79 L481.00 164.79 L481.00 161.99 L480.00 161.99 L480.00 162.62 L479.00 162.62 L479.00 182.51 L478.00 182.51 L478.00 182.51 L477.00 182.51 L477.00 157.34 L476.00 157.34 L476.00 154.32 L475.00 154.32 L475.00 172.44 L474.00 172.44 L474.00 170.95 L473.00 170.95 L473.00 158.34 L472.00 158.34 L472.00 172.44 L471.00 172.44 L471.00 172.44 L470.00 172.44 L470.00 163.04 L469.00 163.04 L469.00 166.40 L468.00 166.40 L468.00 164.44 L467.00 164.44 L467.00 167.40 L466.00 167.40 L466.00 165.77 L465.00 165.77 L465.00 168.41 L464.00 168.41 L464.00 169.70 L463.00 169.70 L463.00 165.39 L462.00 165.39 L462.00 188.55 L461.00 188.55 L461.00 162.37 L460.00 162.37 L460.00 159.90 L459.00 159.90 L459.00 161.36 L458.00 161.36 L458.00 162.37 L457.00 162.37 L457.00 156.33 L456.00 156.33 L456.00 155.63 L455.00 155.63 L455.00 162.37 L454.00 162.37 L454.00 159.84 L453.00 159.84 L453.00 154.31 L452.00 154.31 L452.00 154.53 L451.00 154.53 L451.00 155.32 L450.00 155.32 L450.00 155.23 L449.00 155.23 L449.00 141.23 L448.00 141.23 L448.00 142.07 L447.00 142.07 L447.00 134.18 L446.00 134.18 L446.00 135.63 L445.00 135.63 L445.00 134.18 L444.00 134.18 L444.00 130.25 L443.00 130.25 L443.00 122.85 L442.00 122.85 L442.00 118.68 L441.00 118.68 L441.00 116.72 L440.00 116.72 L440.00 115.05 L439.00 115.05 L439.00 115.27 L438.00 115.27 L438.00 117.06 L437.00 117.06 L437.00 117.06 L436.00 117.06 L436.00 114.07 L435.00 114.07 L435.00 113.53 L434.00 113.53 L434.00 115.05 L433.00 115.05 L433.00 115.02 L432.00 115.02 L432.00 116.05 L431.00 116.05 L431.00 115.83 L430.00 115.83 L430.00 114.04 L429.00 114.04 L429.00 113.67 L428.00 113.67 L428.00 113.03 L427.00 113.03 L427.00 112.68 L426.00 112.68 L426.00 113.03 L425.00 113.03 L425.00 113.07 L424.00 113.07 L424.00 114.04 L423.00 114.04 L423.00 114.04 L422.00 114.04 L422.00 111.02 L421.00 111.02 L421.00 111.13 L420.00 111.13 L420.00 112.03 L419.00 112.03 L419.00 111.92 L418.95 111.92Z"/>
<path fill="#361a84" d="M70.30 310.85 L71.00 310.85 L71.00 310.70 L72.00 310.70 L72.00 310.55 L73.00 310.55 L73.00 310.40 L74.00 310.40 L74.00 310.28 L75.00 310.28 L75.00 310.18 L76.00 310.18 L76.00 310.08 L77.00 310.08 L77.00 309.98 L78.00 309.98 L78.00 309.90 L79.00 309.90 L79.00 309.85 L80.00 309.85 L80.00 309.80 L81.00 309.80 L81.00 309.75 L82.00 309.75 L82.00 309.81 L83.00 309.81 L83.00 310.01 L84.00 310.01 L84.00 310.21 L85.00 310.21 L85.00 310.41 L86.00 310.41 L86.00 310.53 L87.00 310.53 L87.00 310.53 L88.00 310.53 L88.00 310.53 L89.00 310.53 L89.00 310.53 L90.00 310.53 L90.00 310.53 L91.00 310.53 L91.00 310.53 L92.00 310.53 L92.00 301.47 L93.00 301.47 L93.00 298.84 L94.00 298.84 L94.00 294.87 L95.00 294.87 L95.00 294.37 L96.00 294.37 L96.00 295.44 L97.00 295.44 L97.00 291.40 L98.00 291.40 L98.00 292.76 L99.00 292.76 L99.00 291.40 L100.00 291.40 L100.00 273.27 L101.00 273.27 L101.00 265.46 L102.00 265.46 L102.00 259.18 L103.00 259.18 L103.00 255.12 L104.00 255.12 L104.00 255.44 L105.00 255.44 L105.00 244.15 L106.00 244.15 L106.00 245.08 L107.00 245.08 L107.00 241.05 L108.00 241.05 L108.00 241.05 L109.00 241.05 L109.00 257.16 L110.00 257.16 L110.00 257.55 L111.00 257.55 L111.00 255.15 L112.00 255.15 L112.00 251.12 L113.00 251.12 L113.00 245.08 L114.00 245.08 L114.00 247.34 L115.00 247.34 L115.00 263.21 L116.00 263.21 L116.00 267.23 L117.00 267.23 L117.00 266.23 L118.00 266.23 L118.00 250.12 L119.00 250.12 L119.00 250.12 L120.00 250.12 L120.00 265.22 L121.00 265.22 L121.00 253.84 L122.00 253.84 L122.00 256.16 L123.00 256.16 L123.00 267.23 L124.00 267.23 L124.00 264.24 L125.00 264.24 L125.00 268.24 L126.00 268.24 L126.00 271.30 L127.00 271.30 L127.00 264.21 L128.00 264.21 L128.00 265.31 L129.00 265.31 L129.00 268.82 L130.00 268.82 L130.00 278.88 L131.00 278.88 L131.00 275.29 L132.00 275.29 L132.00 273.38 L133.00 273.38 L133.00 273.27 L134.00 273.27 L134.00 273.27 L135.00 273.27 L135.00 275.29 L136.00 275.29 L136.00 280.33 L137.00 280.33 L137.00 273.74 L138.00 273.74 L138.00 275.47 L139.00 275.47 L139.00 270.25 L140.00 270.25 L140.00 277.40 L141.00 277.40 L141.00 273.27 L142.00 273.27 L142.00 277.79 L143.00 277.79 L143.00 272.27 L144.00 272.27 L144.00 281.33 L145.00 281.33 L145.00 283.99 L146.00 283.99 L146.00 280.27 L147.00 280.27 L147.00 283.94 L148.00 283.94 L148.00 278.31 L149.00 278.31 L149.00 279.77 L150.00 279.77 L150.00 286.36 L151.00 286.36 L151.00 285.35 L152.00 285.35 L152.00 287.37 L153.00 287.37 L153.00 290.82 L154.00 290.82 L154.00 287.37 L155.00 287.37 L155.00 287.08 L156.00 287.08 L156.00 286.36 L157.00 286.36 L157.00 287.85 L158.00 287.85 L158.00 285.36 L159.00 285.36 L159.00 285.90 L160.00 285.90 L160.00 284.35 L161.00 284.35 L161.00 290.56 L162.00 290.56 L162.00 290.90 L163.00 290.90 L163.00 285.36 L164.00 285.36 L164.00 287.46 L165.00 287.46 L165.00 288.38 L166.00 288.38 L166.00 291.61 L167.00 291.61 L167.00 291.40 L168.00 291.40 L168.00 291.44 L169.00 291.44 L169.00 292.40 L170.00 292.40 L170.00 292.67 L171.00 292.67 L171.00 288.38 L172.00 288.38 L172.00 289.02 L173.00 289.02 L173.00 290.39 L174.00 290.39 L174.00 292.82 L175.00 292.82 L175.00 293.41 L176.00 293.41 L176.00 293.60 L177.00 293.60 L177.00 293.41 L178.00 293.41 L178.00 295.62 L179.00 295.62 L179.00 289.59 L180.00 289.59 L180.00 287.37 L181.00 287.37 L181.00 294.13 L182.00 294.13 L182.00 294.35 L183.00 294.35 L183.00 293.41 L184.00 293.41 L184.00 295.66 L185.00 295.66 L185.00 295.42 L186.00 295.42 L186.00 295.70 L187.00 295.70 L187.00 293.41 L188.00 293.41 L188.00 294.27 L189.00 294.27 L189.00 298.45 L190.00 298.45 L190.00 299.22 L191.00 299.22 L191.00 297.44 L192.00 297.44 L192.00 299.85 L193.00 299.85 L193.00 298.45 L194.00 298.45 L194.00 299.90 L195.00 299.90 L195.00 295.36 L196.00 295.36 L196.00 292.40 L197.00 292.40 L197.00 292.89 L198.00 292.89 L198.00 294.54 L199.00 294.54 L199.00 296.66 L200.00 296.66 L200.00 298.45 L201.00 298.45 L201.00 298.20 L202.00 298.20 L202.00 296.43 L203.00 296.43 L203.00 297.96 L204.00 297.96 L204.00 299.25 L205.00 299.25 L205.00 299.23 L206.00 299.23 L206.00 301.11 L207.00 301.11 L207.00 302.89 L208.00 302.89 L208.00 300.46 L209.00 300.46 L209.00 300.46 L210.00 300.46 L210.00 302.47 L211.00 302.47 L211.00 302.69 L212.00 302.69 L212.00 301.47 L213.00 301.47 L213.00 302.51 L214.00 302.51 L214.00 300.73 L215.00 300.73 L215.00 300.34 L216.00 300.34 L216.00 300.61 L217.00 300.61 L217.00 302.79 L218.00 302.79 L218.00 300.34 L219.00 300.34 L219.00 300.34 L220.00 300.34 L220.00 302.41 L221.00 302.41 L221.00 303.30 L222.00 303.30 L222.00 303.45 L223.00 303.45 L223.00 304.08 L224.00 304.08 L224.00 305.42 L225.00 305.42 L225.00 302.41 L226.00 302.41 L226.00 302.41 L227.00 302.41 L227.00 303.59 L228.00 303.59 L228.00 301.90 L229.00 301.90 L229.00 301.00 L230.00 301.00 L230.00 301.14 L231.00 301.14 L231.00 298.79 L232.00 298.79 L232.00 302.41 L233.00 302.41 L233.00 304.80 L234.00 304.80 L234.00 303.45 L235.00 303.45 L235.00 303.97 L236.00 303.97 L236.00 304.95 L237.00 304.95 L237.00 304.48 L238.00 304.48 L238.00 305.00 L239.00 305.00 L239.00 304.78 L240.00 304.78 L240.00 305.33 L241.00 305.33 L241.00 304.48 L242.00 304.48 L242.00 304.55 L243.00 304.55 L243.00 305.52 L244.00 305.52 L244.00 302.93 L245.00 302.93 L245.00 303.15 L246.00 303.15 L246.00 307.07 L247.00 307.07 L247.00 306.12 L248.00 306.12 L248.00 305.73 L249.00 305.73 L249.00 306.03 L250.00 306.03 L250.00 305.52 L251.00 305.52 L251.00 303.97 L252.00 303.97 L252.00 303.97 L253.00 303.97 L253.00 305.52 L254.00 305.52 L254.00 305.68 L255.00 305.68 L255.00 304.48 L256.00 304.48 L256.00 305.00 L257.00 305.00 L257.00 304.65 L258.00 304.65 L258.00 305.82 L259.00 305.82 L259.00 307.23 L260.00 307.23 L260.00 307.34 L261.00 307.34 L261.00 307.07 L262.00 307.07 L262.00 306.06 L263.00 306.06 L263.00 305.52 L264.00 305.52 L264.00 306.03 L265.00 306.03 L265.00 307.48 L266.00 307.48 L266.00 306.55 L267.00 306.55 L267.00 307.07 L268.00 307.07 L268.00 307.34 L269.00 307.34 L269.00 307.07 L270.00 307.07 L270.00 307.59 L271.00 307.59 L271.00 307.84 L272.00 307.84 L272.00 307.07 L273.00 307.07 L273.00 308.10 L274.00 308.10 L274.00 308.23 L275.00 308.23 L275.00 307.92 L276.00 307.92 L276.00 307.64 L277.00 307.64 L277.00 307.59 L278.00 307.59 L278.00 308.10 L279.00 308.10 L279.00 308.85 L280.00 308.85 L280.00 308.62 L281.00 308.62 L281.00 308.10 L282.00 308.10 L282.00 309.07 L283.00 309.07 L283.00 308.62 L284.00 308.62 L284.00 307.07 L285.00 307.07 L285.00 308.46 L286.00 308.46 L286.00 308.28 L287.00 308.28 L287.00 307.41 L288.00 307.41 L288.00 307.71 L289.00 307.71 L289.00 307.71 L290.00 307.71 L290.00 307.24 L291.00 307.24 L291.00 308.00 L292.00 308.00 L292.00 308.28 L293.00 308.28 L293.00 308.46 L294.00 308.46 L294.00 307.76 L295.00 307.76 L295.00 307.92 L296.00 307.92 L296.00 307.76 L297.00 307.76 L297.00 307.71 L298.00 307.71 L298.00 308.25 L299.00 308.25 L299.00 306.72 L300.00 306.72 L300.00 308.25 L301.00 308.25 L301.00 308.31 L302.00 308.31 L302.00 307.24 L303.00 307.24 L303.00 307.75 L304.00 307.75 L304.00 307.45 L305.00 307.45 L305.00 307.97 L306.00 307.97 L306.00 308.37 L307.00 308.37 L307.00 307.76 L308.00 307.76 L308.00 307.76 L309.00 307.76 L309.00 308.54 L310.00 308.54 L310.00 308.28 L311.00 308.28 L311.00 308.64 L312.00 308.64 L312.00 308.72 L313.00 308.72 L313.00 309.31 L314.00 309.31 L314.00 309.09 L315.00 309.09 L315.00 309.34 L316.00 309.34 L316.00 308.79 L317.00 308.79 L317.00 309.68 L318.00 309.68 L318.00 309.10 L319.00 309.10 L319.00 309.27 L320.00 309.27 L320.00 309.05 L321.00 309.05 L321.00 309.31 L322.00 309.31 L322.00 308.79 L323.00 308.79 L323.00 308.79 L324.00 308.79 L324.00 308.79 L325.00 308.79 L325.00 309.31 L326.00 309.31 L326.00 309.86 L327.00 309.86 L327.00 308.79 L328.00 308.79 L328.00 309.31 L329.00 309.31 L329.00 309.77 L330.00 309.77 L330.00 309.10 L331.00 309.10 L331.00 309.55 L332.00 309.55 L332.00 309.10 L333.00 309.10 L333.00 309.52 L334.00 309.52 L334.00 309.47 L335.00 309.47 L335.00 309.31 L336.00 309.31 L336.00 309.79 L337.00 309.79 L337.00 309.62 L338.00 309.62 L338.00 309.62 L339.00 309.62 L339.00 309.72 L340.00 309.72 L340.00 310.06 L341.00 310.06 L341.00 309.52 L342.00 309.52 L342.00 309.83 L343.00 309.83 L343.00 310.11 L344.00 310.11 L344.00 309.83 L345.00 309.83 L345.00 309.52 L346.00 309.52 L346.00 309.68 L347.00 309.68 L347.00 309.83 L348.00 309.83 L348.00 310.25 L349.00 310.25 L349.00 309.83 L350.00 309.83 L350.00 309.10 L351.00 309.10 L351.00 309.10 L352.00 309.10 L352.00 309.18 L353.00 309.18 L353.00 309.83 L354.00 309.83 L354.00 310.09 L355.00 310.09 L355.00 310.34 L356.00 310.34 L356.00 309.83 L357.00 309.83 L357.00 309.83 L358.00 309.83 L358.00 309.83 L359.00 309.83 L359.00 309.83 L360.00 309.83 L360.00 310.00 L360.90 310.00 L360.90 315.17 L360.00 315.17 L360.00 314.48 L359.00 314.48 L359.00 314.69 L358.00 314.69 L358.00 314.61 L357.00 314.61 L357.00 314.48 L356.00 314.48 L356.00 315.00 L355.00 315.00 L355.00 314.76 L354.00 314.76 L354.00 314.69 L353.00 314.69 L353.00 315.00 L352.00 315.00 L352.00 314.88 L351.00 314.88 L351.00 315.47 L350.00 315.47 L350.00 316.03 L349.00 316.03 L349.00 316.03 L348.00 316.03 L348.00 315.00 L347.00 315.00 L347.00 315.41 L346.00 315.41 L346.00 315.52 L345.00 315.52 L345.00 315.31 L344.00 315.31 L344.00 316.03 L343.00 316.03 L343.00 316.03 L342.00 316.03 L342.00 315.67 L341.00 315.67 L341.00 315.20 L340.00 315.20 L340.00 315.31 L339.00 315.31 L339.00 315.52 L338.00 315.52 L338.00 315.59 L337.00 315.59 L337.00 315.52 L336.00 315.52 L336.00 316.03 L335.00 316.03 L335.00 315.82 L334.00 315.82 L334.00 315.59 L333.00 315.59 L333.00 315.72 L332.00 315.72 L332.00 315.93 L331.00 315.93 L331.00 316.03 L330.00 316.03 L330.00 315.63 L329.00 315.63 L329.00 315.79 L328.00 315.79 L328.00 316.03 L327.00 316.03 L327.00 316.22 L326.00 316.22 L326.00 316.27 L325.00 316.27 L325.00 316.34 L324.00 316.34 L324.00 316.47 L323.00 316.47 L323.00 317.59 L322.00 317.59 L322.00 316.55 L321.00 316.55 L321.00 316.81 L320.00 316.81 L320.00 316.34 L319.00 316.34 L319.00 316.59 L318.00 316.59 L318.00 315.96 L317.00 315.96 L317.00 317.07 L316.00 317.07 L316.00 316.41 L315.00 316.41 L315.00 316.34 L314.00 316.34 L314.00 316.55 L313.00 316.55 L313.00 316.47 L312.00 316.47 L312.00 317.07 L311.00 317.07 L311.00 316.55 L310.00 316.55 L310.00 316.41 L309.00 316.41 L309.00 317.07 L308.00 317.07 L308.00 316.67 L307.00 316.67 L307.00 316.00 L306.00 316.00 L306.00 317.07 L305.00 317.07 L305.00 317.83 L304.00 317.83 L304.00 317.67 L303.00 317.67 L303.00 318.10 L302.00 318.10 L302.00 316.89 L301.00 316.89 L301.00 317.07 L300.00 317.07 L300.00 318.10 L299.00 318.10 L299.00 316.91 L298.00 316.91 L298.00 317.64 L297.00 317.64 L297.00 317.07 L296.00 317.07 L296.00 316.85 L295.00 316.85 L295.00 317.38 L294.00 317.38 L294.00 318.10 L293.00 318.10 L293.00 317.37 L292.00 317.37 L292.00 318.62 L291.00 318.62 L291.00 317.71 L290.00 317.71 L290.00 317.57 L289.00 317.57 L289.00 317.27 L288.00 317.27 L288.00 317.37 L287.00 317.37 L287.00 316.57 L286.00 316.57 L286.00 316.44 L285.00 316.44 L285.00 316.38 L284.00 316.38 L284.00 316.98 L283.00 316.98 L283.00 317.20 L282.00 317.20 L282.00 317.93 L281.00 317.93 L281.00 316.38 L280.00 316.38 L280.00 316.08 L279.00 316.08 L279.00 316.90 L278.00 316.90 L278.00 316.38 L277.00 316.38 L277.00 315.81 L276.00 315.81 L276.00 317.41 L275.00 317.41 L275.00 316.45 L274.00 316.45 L274.00 316.90 L273.00 316.90 L273.00 317.93 L272.00 317.93 L272.00 316.43 L271.00 316.43 L271.00 316.90 L270.00 316.90 L270.00 317.41 L269.00 317.41 L269.00 316.67 L268.00 316.67 L268.00 316.90 L267.00 316.90 L267.00 317.93 L266.00 317.93 L266.00 317.48 L265.00 317.48 L265.00 317.41 L264.00 317.41 L264.00 318.45 L263.00 318.45 L263.00 318.24 L262.00 318.24 L262.00 317.93 L261.00 317.93 L261.00 316.78 L260.00 316.78 L260.00 317.41 L259.00 317.41 L259.00 318.45 L258.00 318.45 L258.00 318.34 L257.00 318.34 L257.00 318.18 L256.00 318.18 L256.00 319.48 L255.00 319.48 L255.00 318.45 L254.00 318.45 L254.00 318.96 L253.00 318.96 L253.00 320.52 L252.00 320.52 L252.00 320.52 L251.00 320.52 L251.00 320.00 L250.00 320.00 L250.00 319.26 L249.00 319.26 L249.00 318.96 L248.00 318.96 L248.00 318.86 L247.00 318.86 L247.00 319.21 L246.00 319.21 L246.00 321.03 L245.00 321.03 L245.00 321.03 L244.00 321.03 L244.00 319.48 L243.00 319.48 L243.00 319.93 L242.00 319.93 L242.00 321.03 L241.00 321.03 L241.00 321.03 L240.00 321.03 L240.00 319.12 L239.00 319.12 L239.00 320.12 L238.00 320.12 L238.00 320.52 L237.00 320.52 L237.00 320.33 L236.00 320.33 L236.00 321.91 L235.00 321.91 L235.00 321.03 L234.00 321.03 L234.00 320.90 L233.00 320.90 L233.00 322.07 L232.00 322.07 L232.00 326.21 L231.00 326.21 L231.00 320.90 L230.00 320.90 L230.00 322.07 L229.00 322.07 L229.00 321.03 L228.00 321.03 L228.00 322.31 L227.00 322.31 L227.00 323.04 L226.00 323.04 L226.00 323.10 L225.00 323.10 L225.00 321.57 L224.00 321.57 L224.00 322.58 L223.00 322.58 L223.00 323.10 L222.00 323.10 L222.00 322.70 L221.00 322.70 L221.00 324.25 L220.00 324.25 L220.00 325.69 L219.00 325.69 L219.00 325.05 L218.00 325.05 L218.00 324.14 L217.00 324.14 L217.00 326.21 L216.00 326.21 L216.00 325.64 L215.00 325.64 L215.00 326.72 L214.00 326.72 L214.00 324.72 L213.00 324.72 L213.00 325.24 L212.00 325.24 L212.00 326.79 L211.00 326.79 L211.00 327.31 L210.00 327.31 L210.00 325.76 L209.00 325.76 L209.00 324.21 L208.00 324.21 L208.00 323.17 L207.00 323.17 L207.00 322.66 L206.00 322.66 L206.00 323.69 L205.00 323.69 L205.00 324.21 L204.00 324.21 L204.00 324.15 L203.00 324.15 L203.00 324.21 L202.00 324.21 L202.00 325.24 L201.00 325.24 L201.00 324.93 L200.00 324.93 L200.00 325.76 L199.00 325.76 L199.00 325.76 L198.00 325.76 L198.00 326.79 L197.00 326.79 L197.00 326.68 L196.00 326.68 L196.00 327.30 L195.00 327.30 L195.00 325.24 L194.00 325.24 L194.00 327.59 L193.00 327.59 L193.00 328.34 L192.00 328.34 L192.00 327.83 L191.00 327.83 L191.00 328.34 L190.00 328.34 L190.00 328.86 L189.00 328.86 L189.00 328.34 L188.00 328.34 L188.00 327.83 L187.00 327.83 L187.00 328.34 L186.00 328.34 L186.00 329.96 L185.00 329.96 L185.00 334.55 L184.00 334.55 L184.00 330.41 L183.00 330.41 L183.00 327.31 L182.00 327.31 L182.00 328.34 L181.00 328.34 L181.00 337.14 L180.00 337.14 L180.00 329.90 L179.00 329.90 L179.00 331.45 L178.00 331.45 L178.00 332.48 L177.00 332.48 L177.00 334.55 L176.00 334.55 L176.00 337.53 L175.00 337.53 L175.00 331.97 L174.00 331.97 L174.00 335.59 L173.00 335.59 L173.00 338.69 L172.00 338.69 L172.00 331.39 L171.00 331.39 L171.00 331.39 L170.00 331.39 L170.00 331.45 L169.00 331.45 L169.00 333.00 L168.00 333.00 L168.00 333.52 L167.00 333.52 L167.00 334.55 L166.00 334.55 L166.00 335.59 L165.00 335.59 L165.00 336.10 L164.00 336.10 L164.00 334.55 L163.00 334.55 L163.00 335.07 L162.00 335.07 L162.00 337.14 L161.00 337.14 L161.00 338.69 L160.00 338.69 L160.00 340.76 L159.00 340.76 L159.00 346.96 L158.00 346.96 L158.00 343.31 L157.00 343.31 L157.00 340.24 L156.00 340.24 L156.00 339.72 L155.00 339.72 L155.00 345.93 L154.00 345.93 L154.00 345.41 L153.00 345.41 L153.00 336.62 L152.00 336.62 L152.00 340.36 L151.00 340.36 L151.00 341.40 L150.00 341.40 L150.00 342.83 L149.00 342.83 L149.00 345.41 L148.00 345.41 L148.00 344.38 L147.00 344.38 L147.00 343.86 L146.00 343.86 L146.00 341.79 L145.00 341.79 L145.00 336.10 L144.00 336.10 L144.00 336.62 L143.00 336.62 L143.00 357.31 L142.00 357.31 L142.00 352.39 L141.00 352.39 L141.00 351.23 L140.00 351.23 L140.00 352.03 L139.00 352.03 L139.00 348.46 L138.00 348.46 L138.00 353.10 L137.00 353.10 L137.00 353.66 L136.00 353.66 L136.00 359.90 L135.00 359.90 L135.00 354.70 L134.00 354.70 L134.00 353.14 L133.00 353.14 L133.00 363.01 L132.00 363.01 L132.00 354.00 L131.00 354.00 L131.00 359.90 L130.00 359.90 L130.00 349.50 L129.00 349.50 L129.00 354.05 L128.00 354.05 L128.00 358.86 L127.00 358.86 L127.00 353.66 L126.00 353.66 L126.00 348.49 L125.00 348.49 L125.00 359.57 L124.00 359.57 L124.00 359.90 L123.00 359.90 L123.00 357.37 L122.00 357.37 L122.00 376.53 L121.00 376.53 L121.00 362.43 L120.00 362.43 L120.00 358.86 L119.00 358.86 L119.00 361.98 L118.00 361.98 L118.00 379.65 L117.00 379.65 L117.00 381.64 L116.00 381.64 L116.00 378.95 L115.00 378.95 L115.00 401.48 L114.00 401.48 L114.00 401.48 L113.00 401.48 L113.00 376.01 L112.00 376.01 L112.00 370.29 L111.00 370.29 L111.00 366.13 L110.00 366.13 L110.00 360.85 L109.00 360.85 L109.00 360.46 L108.00 360.46 L108.00 372.37 L107.00 372.37 L107.00 355.11 L106.00 355.11 L106.00 362.86 L105.00 362.86 L105.00 374.45 L104.00 374.45 L104.00 361.62 L103.00 361.62 L103.00 358.48 L102.00 358.48 L102.00 351.58 L101.00 351.58 L101.00 339.11 L100.00 339.11 L100.00 338.49 L99.00 338.49 L99.00 335.99 L98.00 335.99 L98.00 332.87 L97.00 332.87 L97.00 330.63 L96.00 330.63 L96.00 330.79 L95.00 330.79 L95.00 323.81 L94.00 323.81 L94.00 325.59 L93.00 325.59 L93.00 324.55 L92.00 324.55 L92.00 314.16 L91.00 314.16 L91.00 314.16 L90.00 314.16 L90.00 314.16 L89.00 314.16 L89.00 314.16 L88.00 314.16 L88.00 314.16 L87.00 314.16 L87.00 314.17 L86.00 314.17 L86.00 314.27 L85.00 314.27 L85.00 314.37 L84.00 314.37 L84.00 314.47 L83.00 314.47 L83.00 314.57 L82.00 314.57 L82.00 314.72 L81.00 314.72 L81.00 314.87 L80.00 314.87 L80.00 315.02 L79.00 315.02 L79.00 315.17 L78.00 315.17 L78.00 315.20 L77.00 315.20 L77.00 315.20 L76.00 315.20 L76.00 315.20 L75.00 315.20 L75.00 315.20 L74.00 315.20 L74.00 315.03 L73.00 315.03 L73.00 314.78 L72.00 314.78 L72.00 314.53 L71.00 314.53 L71.00 314.28 L70.30 314.28Z"/>
<path fill="#361a84" d="M418.95 321.40 L419.00 321.40 L419.00 321.40 L420.00 321.40 L420.00 321.40 L421.00 321.40 L421.00 321.40 L422.00 321.40 L422.00 321.40 L423.00 321.40 L423.00 321.40 L424.00 321.40 L424.00 321.40 L425.00 321.40 L425.00 321.40 L426.00 321.40 L426.00 321.40 L427.00 321.40 L427.00 321.40 L428.00 321.40 L428.00 321.40 L429.00 321.40 L429.00 321.40 L430.00 321.40 L430.00 321.40 L431.00 321.40 L431.00 321.40 L432.00 321.40 L432.00 321.40 L433.00 321.40 L433.00 321.40 L434.00 321.40 L434.00 321.40 L435.00 321.40 L435.00 321.40 L436.00 321.40 L436.00 321.40 L437.00 321.40 L437.00 321.40 L438.00 321.40 L438.00 321.40 L439.00 321.40 L439.00 320.02 L440.00 320.02 L440.00 317.58 L441.00 317.58 L441.00 313.55 L442.00 313.55 L442.00 307.23 L443.00 307.23 L443.00 295.75 L444.00 295.75 L444.00 293.41 L445.00 293.41 L445.00 277.39 L446.00 277.39 L446.00 255.15 L447.00 255.15 L447.00 241.05 L448.00 241.05 L448.00 263.00 L449.00 263.00 L449.00 262.05 L450.00 262.05 L450.00 264.46 L451.00 264.46 L451.00 272.27 L452.00 272.27 L452.00 278.76 L453.00 278.76 L453.00 273.27 L454.00 273.27 L454.00 276.29 L455.00 276.29 L455.00 266.23 L456.00 266.23 L456.00 268.70 L457.00 268.70 L457.00 248.10 L458.00 248.10 L458.00 267.23 L459.00 267.23 L459.00 263.75 L460.00 263.75 L460.00 263.21 L461.00 263.21 L461.00 257.16 L462.00 257.16 L462.00 272.13 L463.00 272.13 L463.00 265.22 L464.00 265.22 L464.00 272.27 L465.00 272.27 L465.00 279.50 L466.00 279.50 L466.00 266.23 L467.00 266.23 L467.00 262.99 L468.00 262.99 L468.00 271.26 L469.00 271.26 L469.00 256.16 L470.00 256.16 L470.00 256.16 L471.00 256.16 L471.00 266.94 L472.00 266.94 L472.00 271.26 L473.00 271.26 L473.00 244.08 L474.00 244.08 L474.00 254.73 L475.00 254.73 L475.00 258.69 L476.00 258.69 L476.00 270.89 L477.00 270.89 L477.00 262.98 L478.00 262.98 L478.00 263.21 L479.00 263.21 L479.00 268.24 L480.00 268.24 L480.00 273.25 L481.00 273.25 L481.00 254.14 L482.00 254.14 L482.00 254.14 L483.00 254.14 L483.00 266.23 L484.00 266.23 L484.00 280.68 L485.00 280.68 L485.00 281.33 L486.00 281.33 L486.00 286.12 L487.00 286.12 L487.00 277.09 L488.00 277.09 L488.00 281.22 L489.00 281.22 L489.00 275.29 L490.00 275.29 L490.00 275.29 L491.00 275.29 L491.00 277.03 L492.00 277.03 L492.00 279.82 L493.00 279.82 L493.00 277.30 L494.00 277.30 L494.00 281.10 L495.00 281.10 L495.00 285.36 L496.00 285.36 L496.00 290.80 L497.00 290.80 L497.00 291.40 L498.00 291.40 L498.00 294.50 L499.00 294.50 L499.00 281.33 L500.00 281.33 L500.00 282.92 L501.00 282.92 L501.00 289.38 L502.00 289.38 L502.00 291.19 L503.00 291.19 L503.00 292.35 L504.00 292.35 L504.00 284.35 L505.00 284.35 L505.00 289.15 L506.00 289.15 L506.00 284.35 L507.00 284.35 L507.00 287.82 L508.00 287.82 L508.00 293.41 L509.00 293.41 L509.00 296.45 L510.00 296.45 L510.00 290.39 L511.00 290.39 L511.00 295.04 L512.00 295.04 L512.00 287.37 L513.00 287.37 L513.00 289.22 L514.00 289.22 L514.00 289.32 L515.00 289.32 L515.00 295.26 L516.00 295.26 L516.00 293.41 L517.00 293.41 L517.00 285.36 L518.00 285.36 L518.00 300.27 L519.00 300.27 L519.00 301.52 L520.00 301.52 L520.00 298.45 L521.00 298.45 L521.00 297.56 L522.00 297.56 L522.00 297.44 L523.00 297.44 L523.00 297.44 L524.00 297.44 L524.00 299.45 L525.00 299.45 L525.00 299.93 L526.00 299.93 L526.00 298.45 L527.00 298.45 L527.00 298.45 L528.00 298.45 L528.00 300.35 L529.00 300.35 L529.00 300.66 L530.00 300.66 L530.00 304.66 L531.00 304.66 L531.00 306.92 L532.00 306.92 L532.00 306.50 L533.00 306.50 L533.00 308.55 L534.00 308.55 L534.00 306.50 L535.00 306.50 L535.00 308.24 L536.00 308.24 L536.00 309.52 L537.00 309.52 L537.00 308.66 L538.00 308.66 L538.00 310.53 L539.00 310.53 L539.00 310.57 L540.00 310.57 L540.00 307.51 L541.00 307.51 L541.00 308.06 L542.00 308.06 L542.00 305.49 L543.00 305.49 L543.00 305.49 L544.00 305.49 L544.00 308.51 L545.00 308.51 L545.00 308.58 L546.00 308.58 L546.00 311.53 L547.00 311.53 L547.00 311.61 L548.00 311.61 L548.00 310.53 L549.00 310.53 L549.00 310.74 L550.00 310.74 L550.00 308.51 L551.00 308.51 L551.00 309.69 L552.00 309.69 L552.00 304.49 L553.00 304.49 L553.00 305.22 L554.00 305.22 L554.00 305.49 L555.00 305.49 L555.00 307.13 L556.00 307.13 L556.00 312.54 L557.00 312.54 L557.00 313.88 L558.00 313.88 L558.00 308.51 L559.00 308.51 L559.00 310.58 L560.00 310.58 L560.00 309.52 L561.00 309.52 L561.00 309.59 L562.00 309.59 L562.00 309.65 L563.00 309.65 L563.00 313.81 L564.00 313.81 L564.00 314.64 L565.00 314.64 L565.00 315.05 L566.00 315.05 L566.00 312.14 L567.00 312.14 L567.00 311.31 L568.00 311.31 L568.00 313.46 L569.00 313.46 L569.00 313.39 L570.00 313.39 L570.00 314.22 L571.00 314.22 L571.00 314.64 L572.00 314.64 L572.00 315.05 L573.00 315.05 L573.00 313.81 L574.00 313.81 L574.00 312.56 L575.00 312.56 L575.00 315.47 L576.00 315.47 L576.00 315.88 L577.00 315.88 L577.00 315.47 L578.00 315.47 L578.00 314.64 L579.00 314.64 L579.00 313.81 L580.00 313.81 L580.00 315.98 L581.00 315.98 L581.00 316.72 L582.00 316.72 L582.00 316.30 L583.00 316.30 L583.00 315.05 L584.00 315.05 L584.00 315.88 L585.00 315.88 L585.00 316.72 L586.00 316.72 L586.00 316.48 L587.00 316.48 L587.00 316.30 L588.00 316.30 L588.00 316.72 L589.00 316.72 L589.00 316.30 L590.00 316.30 L590.00 317.55 L591.00 317.55 L591.00 317.55 L592.00 317.55 L592.00 317.96 L593.00 317.96 L593.00 317.81 L594.00 317.81 L594.00 317.13 L595.00 317.13 L595.00 317.13 L596.00 317.13 L596.00 316.24 L597.00 316.24 L597.00 316.30 L598.00 316.30 L598.00 316.13 L599.00 316.13 L599.00 316.05 L600.00 316.05 L600.00 318.80 L601.00 318.80 L601.00 318.18 L602.00 318.18 L602.00 317.91 L603.00 317.91 L603.00 318.80 L604.00 318.80 L604.00 319.43 L605.00 319.43 L605.00 318.50 L606.00 318.50 L606.00 318.15 L607.00 318.15 L607.00 317.88 L608.00 317.88 L608.00 318.05 L609.00 318.05 L609.00 318.21 L610.00 318.21 L610.00 318.50 L611.00 318.50 L611.00 318.19 L612.00 318.19 L612.00 318.19 L613.00 318.19 L613.00 318.50 L614.00 318.50 L614.00 318.80 L615.00 318.80 L615.00 319.10 L616.00 319.10 L616.00 318.62 L617.00 318.62 L617.00 318.80 L618.00 318.80 L618.00 318.93 L619.00 318.93 L619.00 319.06 L620.00 319.06 L620.00 319.29 L621.00 319.29 L621.00 319.42 L622.00 319.42 L622.00 319.28 L623.00 319.28 L623.00 319.42 L624.00 319.42 L624.00 319.72 L625.00 319.72 L625.00 320.03 L626.00 320.03 L626.00 320.26 L627.00 320.26 L627.00 319.72 L628.00 319.72 L628.00 320.03 L629.00 320.03 L629.00 320.03 L630.00 320.03 L630.00 320.03 L631.00 320.03 L631.00 320.25 L632.00 320.25 L632.00 320.34 L633.00 320.34 L633.00 320.03 L634.00 320.03 L634.00 320.34 L635.00 320.34 L635.00 320.03 L636.00 320.03 L636.00 320.34 L637.00 320.34 L637.00 320.52 L638.00 320.52 L638.00 320.51 L639.00 320.51 L639.00 320.14 L640.00 320.14 L640.00 320.25 L641.00 320.25 L641.00 319.83 L642.00 319.83 L642.00 320.48 L643.00 320.48 L643.00 320.34 L644.00 320.34 L644.00 319.88 L645.00 319.88 L645.00 319.83 L646.00 319.83 L646.00 320.36 L647.00 320.36 L647.00 320.34 L648.00 320.34 L648.00 320.25 L649.00 320.25 L649.00 320.14 L650.00 320.14 L650.00 320.14 L651.00 320.14 L651.00 320.34 L652.00 320.34 L652.00 320.33 L653.00 320.33 L653.00 319.83 L654.00 319.83 L654.00 319.87 L655.00 319.87 L655.00 320.34 L656.00 320.34 L656.00 320.41 L657.00 320.41 L657.00 319.83 L658.00 319.83 L658.00 319.89 L659.00 319.89 L659.00 320.14 L660.00 320.14 L660.00 320.31 L661.00 320.31 L661.00 320.24 L662.00 320.24 L662.00 320.35 L663.00 320.35 L663.00 320.34 L664.00 320.34 L664.00 320.58 L665.00 320.58 L665.00 320.80 L666.00 320.80 L666.00 320.86 L667.00 320.86 L667.00 320.60 L668.00 320.60 L668.00 320.55 L669.00 320.55 L669.00 320.37 L670.00 320.37 L670.00 320.34 L671.00 320.34 L671.00 321.13 L672.00 321.13 L672.00 320.77 L673.00 320.77 L673.00 320.88 L674.00 320.88 L674.00 320.65 L675.00 320.65 L675.00 320.39 L676.00 320.39 L676.00 320.34 L677.00 320.34 L677.00 321.08 L678.00 321.08 L678.00 320.78 L679.00 320.78 L679.00 320.72 L680.00 320.72 L680.00 320.65 L681.00 320.65 L681.00 320.96 L682.00 320.96 L682.00 320.86 L683.00 320.86 L683.00 321.15 L684.00 321.15 L684.00 320.86 L685.00 320.86 L685.00 321.10 L686.00 321.10 L686.00 321.04 L687.00 321.04 L687.00 321.06 L688.00 321.06 L688.00 320.86 L689.00 320.86 L689.00 320.86 L690.00 320.86 L690.00 321.07 L691.00 321.07 L691.00 321.34 L692.00 321.34 L692.00 321.17 L693.00 321.17 L693.00 321.31 L694.00 321.31 L694.00 321.17 L695.00 321.17 L695.00 321.34 L696.00 321.34 L696.00 321.23 L697.00 321.23 L697.00 321.17 L698.00 321.17 L698.00 321.46 L699.00 321.46 L699.00 321.38 L700.00 321.38 L700.00 321.17 L701.00 321.17 L701.00 321.17 L702.00 321.17 L702.00 321.57 L703.00 321.57 L703.00 321.34 L704.00 321.34 L704.00 321.19 L705.00 321.19 L705.00 321.17 L706.00 321.17 L706.00 321.55 L707.00 321.55 L707.00 321.38 L708.00 321.38 L708.00 321.36 L709.00 321.36 L709.00 321.34 L709.60 321.34 L709.60 324.14 L709.00 324.14 L709.00 324.17 L708.00 324.17 L708.00 324.17 L707.00 324.17 L707.00 324.28 L706.00 324.28 L706.00 324.28 L705.00 324.28 L705.00 324.17 L704.00 324.17 L704.00 324.38 L703.00 324.38 L703.00 324.32 L702.00 324.32 L702.00 324.28 L701.00 324.28 L701.00 324.09 L700.00 324.09 L700.00 324.48 L699.00 324.48 L699.00 324.47 L698.00 324.47 L698.00 324.38 L697.00 324.38 L697.00 324.15 L696.00 324.15 L696.00 324.23 L695.00 324.23 L695.00 324.48 L694.00 324.48 L694.00 324.40 L693.00 324.40 L693.00 324.59 L692.00 324.59 L692.00 324.49 L691.00 324.49 L691.00 324.52 L690.00 324.52 L690.00 324.69 L689.00 324.69 L689.00 324.69 L688.00 324.69 L688.00 324.65 L687.00 324.65 L687.00 324.59 L686.00 324.59 L686.00 324.65 L685.00 324.65 L685.00 324.79 L684.00 324.79 L684.00 324.40 L683.00 324.40 L683.00 324.69 L682.00 324.69 L682.00 324.52 L681.00 324.52 L681.00 324.79 L680.00 324.79 L680.00 324.79 L679.00 324.79 L679.00 325.21 L678.00 325.21 L678.00 324.95 L677.00 324.95 L677.00 325.00 L676.00 325.00 L676.00 324.70 L675.00 324.70 L675.00 324.79 L674.00 324.79 L674.00 324.67 L673.00 324.67 L673.00 325.01 L672.00 325.01 L672.00 325.15 L671.00 325.15 L671.00 325.21 L670.00 325.21 L670.00 325.21 L669.00 325.21 L669.00 325.00 L668.00 325.00 L668.00 324.73 L667.00 324.73 L667.00 325.31 L666.00 325.31 L666.00 325.31 L665.00 325.31 L665.00 325.13 L664.00 325.13 L664.00 325.00 L663.00 325.00 L663.00 325.28 L662.00 325.28 L662.00 325.26 L661.00 325.26 L661.00 325.64 L660.00 325.64 L660.00 325.72 L659.00 325.72 L659.00 325.35 L658.00 325.35 L658.00 325.31 L657.00 325.31 L657.00 325.62 L656.00 325.62 L656.00 325.72 L655.00 325.72 L655.00 324.97 L654.00 324.97 L654.00 325.21 L653.00 325.21 L653.00 325.27 L652.00 325.27 L652.00 325.52 L651.00 325.52 L651.00 325.72 L650.00 325.72 L650.00 325.72 L649.00 325.72 L649.00 325.50 L648.00 325.50 L648.00 325.31 L647.00 325.31 L647.00 325.46 L646.00 325.46 L646.00 325.72 L645.00 325.72 L645.00 325.52 L644.00 325.52 L644.00 325.72 L643.00 325.72 L643.00 325.39 L642.00 325.39 L642.00 326.34 L641.00 326.34 L641.00 326.25 L640.00 326.25 L640.00 325.52 L639.00 325.52 L639.00 325.26 L638.00 325.26 L638.00 324.83 L637.00 324.83 L637.00 324.93 L636.00 324.93 L636.00 325.24 L635.00 325.24 L635.00 325.54 L634.00 325.54 L634.00 325.24 L633.00 325.24 L633.00 325.54 L632.00 325.54 L632.00 325.36 L631.00 325.36 L631.00 325.24 L630.00 325.24 L630.00 325.54 L629.00 325.54 L629.00 325.55 L628.00 325.55 L628.00 325.85 L627.00 325.85 L627.00 325.76 L626.00 325.76 L626.00 325.85 L625.00 325.85 L625.00 326.16 L624.00 326.16 L624.00 326.46 L623.00 326.46 L623.00 325.85 L622.00 325.85 L622.00 326.30 L621.00 326.30 L621.00 325.62 L620.00 325.62 L620.00 326.46 L619.00 326.46 L619.00 326.42 L618.00 326.42 L618.00 326.40 L617.00 326.40 L617.00 326.77 L616.00 326.77 L616.00 326.42 L615.00 326.42 L615.00 326.53 L614.00 326.53 L614.00 327.01 L613.00 327.01 L613.00 327.38 L612.00 327.38 L612.00 326.63 L611.00 326.63 L611.00 326.32 L610.00 326.32 L610.00 326.01 L609.00 326.01 L609.00 326.46 L608.00 326.46 L608.00 326.77 L607.00 326.77 L607.00 326.46 L606.00 326.46 L606.00 326.81 L605.00 326.81 L605.00 326.48 L604.00 326.48 L604.00 326.77 L603.00 326.77 L603.00 327.44 L602.00 327.44 L602.00 326.46 L601.00 326.46 L601.00 326.81 L600.00 326.81 L600.00 330.14 L599.00 330.14 L599.00 329.60 L598.00 329.60 L598.00 329.31 L597.00 329.31 L597.00 328.35 L596.00 328.35 L596.00 327.94 L595.00 327.94 L595.00 327.58 L594.00 327.58 L594.00 327.11 L593.00 327.11 L593.00 327.52 L592.00 327.52 L592.00 327.11 L591.00 327.11 L591.00 327.52 L590.00 327.52 L590.00 329.60 L589.00 329.60 L589.00 330.85 L588.00 330.85 L588.00 329.60 L587.00 329.60 L587.00 329.45 L586.00 329.45 L586.00 328.77 L585.00 328.77 L585.00 328.35 L584.00 328.35 L584.00 329.18 L583.00 329.18 L583.00 328.77 L582.00 328.77 L582.00 327.94 L581.00 327.94 L581.00 329.18 L580.00 329.18 L580.00 330.85 L579.00 330.85 L579.00 329.55 L578.00 329.55 L578.00 328.35 L577.00 328.35 L577.00 328.77 L576.00 328.77 L576.00 330.43 L575.00 330.43 L575.00 334.59 L574.00 334.59 L574.00 330.43 L573.00 330.43 L573.00 331.32 L572.00 331.32 L572.00 330.43 L571.00 330.43 L571.00 329.60 L570.00 329.60 L570.00 330.43 L569.00 330.43 L569.00 331.81 L568.00 331.81 L568.00 335.83 L567.00 335.83 L567.00 332.93 L566.00 332.93 L566.00 330.43 L565.00 330.43 L565.00 331.26 L564.00 331.26 L564.00 330.43 L563.00 330.43 L563.00 334.59 L562.00 334.59 L562.00 333.08 L561.00 333.08 L561.00 333.10 L560.00 333.10 L560.00 332.79 L559.00 332.79 L559.00 334.11 L558.00 334.11 L558.00 337.19 L557.00 337.19 L557.00 338.14 L556.00 338.14 L556.00 332.92 L555.00 332.92 L555.00 334.11 L554.00 334.11 L554.00 335.41 L553.00 335.41 L553.00 336.12 L552.00 336.12 L552.00 334.03 L551.00 334.03 L551.00 335.12 L550.00 335.12 L550.00 336.22 L549.00 336.22 L549.00 337.13 L548.00 337.13 L548.00 334.89 L547.00 334.89 L547.00 336.12 L546.00 336.12 L546.00 338.65 L545.00 338.65 L545.00 339.14 L544.00 339.14 L544.00 335.87 L543.00 335.87 L543.00 338.17 L542.00 338.17 L542.00 337.17 L541.00 337.17 L541.00 337.85 L540.00 337.85 L540.00 336.58 L539.00 336.58 L539.00 338.19 L538.00 338.19 L538.00 338.94 L537.00 338.94 L537.00 340.15 L536.00 340.15 L536.00 342.16 L535.00 342.16 L535.00 342.16 L534.00 342.16 L534.00 339.46 L533.00 339.46 L533.00 340.96 L532.00 340.96 L532.00 341.00 L531.00 341.00 L531.00 343.17 L530.00 343.17 L530.00 342.44 L529.00 342.44 L529.00 343.56 L528.00 343.56 L528.00 342.07 L527.00 342.07 L527.00 347.84 L526.00 347.84 L526.00 349.31 L525.00 349.31 L525.00 346.21 L524.00 346.21 L524.00 349.31 L523.00 349.31 L523.00 350.34 L522.00 350.34 L522.00 347.76 L521.00 347.76 L521.00 349.83 L520.00 349.83 L520.00 350.95 L519.00 350.95 L519.00 351.38 L518.00 351.38 L518.00 354.48 L517.00 354.48 L517.00 346.21 L516.00 346.21 L516.00 351.38 L515.00 351.38 L515.00 354.48 L514.00 354.48 L514.00 353.45 L513.00 353.45 L513.00 352.98 L512.00 352.98 L512.00 352.41 L511.00 352.41 L511.00 351.38 L510.00 351.38 L510.00 352.41 L509.00 352.41 L509.00 354.48 L508.00 354.48 L508.00 356.03 L507.00 356.03 L507.00 356.55 L506.00 356.55 L506.00 352.93 L505.00 352.93 L505.00 353.45 L504.00 353.45 L504.00 350.34 L503.00 350.34 L503.00 358.10 L502.00 358.10 L502.00 362.98 L501.00 362.98 L501.00 370.00 L500.00 370.00 L500.00 363.28 L499.00 363.28 L499.00 360.69 L498.00 360.69 L498.00 361.72 L497.00 361.72 L497.00 358.62 L496.00 358.62 L496.00 362.60 L495.00 362.60 L495.00 366.90 L494.00 366.90 L494.00 363.79 L493.00 363.79 L493.00 355.52 L492.00 355.52 L492.00 356.02 L491.00 356.02 L491.00 363.79 L490.00 363.79 L490.00 375.69 L489.00 375.69 L489.00 366.90 L488.00 366.90 L488.00 367.41 L487.00 367.41 L487.00 363.30 L486.00 363.30 L486.00 363.28 L485.00 363.28 L485.00 364.83 L484.00 364.83 L484.00 371.55 L483.00 371.55 L483.00 367.93 L482.00 367.93 L482.00 369.01 L481.00 369.01 L481.00 376.21 L480.00 376.21 L480.00 376.40 L479.00 376.40 L479.00 377.52 L478.00 377.52 L478.00 382.44 L477.00 382.44 L477.00 374.77 L476.00 374.77 L476.00 378.41 L475.00 378.41 L475.00 397.09 L474.00 397.09 L474.00 400.56 L473.00 400.56 L473.00 382.44 L472.00 382.44 L472.00 378.39 L471.00 378.39 L471.00 388.48 L470.00 388.48 L470.00 375.24 L469.00 375.24 L469.00 380.31 L468.00 380.31 L468.00 372.65 L467.00 372.65 L467.00 377.40 L466.00 377.40 L466.00 376.54 L465.00 376.54 L465.00 378.75 L464.00 378.75 L464.00 382.56 L463.00 382.56 L463.00 382.93 L462.00 382.93 L462.00 397.54 L461.00 397.54 L461.00 388.99 L460.00 388.99 L460.00 386.47 L459.00 386.47 L459.00 389.27 L458.00 389.27 L458.00 396.53 L457.00 396.53 L457.00 396.53 L456.00 396.53 L456.00 380.42 L455.00 380.42 L455.00 378.41 L454.00 378.41 L454.00 372.49 L453.00 372.49 L453.00 379.17 L452.00 379.17 L452.00 376.22 L451.00 376.22 L451.00 384.45 L450.00 384.45 L450.00 382.44 L449.00 382.44 L449.00 374.43 L448.00 374.43 L448.00 378.41 L447.00 378.41 L447.00 376.78 L446.00 376.78 L446.00 377.80 L445.00 377.80 L445.00 364.31 L444.00 364.31 L444.00 348.21 L443.00 348.21 L443.00 336.98 L442.00 336.98 L442.00 337.11 L441.00 337.11 L441.00 330.08 L440.00 330.08 L440.00 323.84 L439.00 323.84 L439.00 323.84 L438.00 323.84 L438.00 323.84 L437.00 323.84 L437.00 323.84 L436.00 323.84 L436.00 323.84 L435.00 323.84 L435.00 323.84 L434.00 323.84 L434.00 323.84 L433.00 323.84 L433.00 323.84 L432.00 323.84 L432.00 323.84 L431.00 323.84 L431.00 323.84 L430.00 323.84 L430.00 323.84 L429.00 323.84 L429.00 323.84 L428.00 323.84 L428.00 323.84 L427.00 323.84 L427.00 323.84 L426.00 323.84 L426.00 323.84 L425.00 323.84 L425.00 323.84 L424.00 323.84 L424.00 323.84 L423.00 323.84 L423.00 323.84 L422.00 323.84 L422.00 323.84 L421.00 323.84 L421.00 323.84 L420.00 323.84 L420.00 323.84 L419.00 323.84 L419.00 323.84 L418.95 323.84Z"/>
<rect x="70.30" y="22.50" width="290.60" height="175.25" fill="none" stroke="#000" stroke-width="1.30"/>
<line x1="70.30" y1="197.75" x2="70.30" y2="201.05" stroke="#000" stroke-width="0.98"/>
<line x1="92.65" y1="197.75" x2="92.65" y2="203.45" stroke="#000" stroke-width="1.30"/>
<line x1="115.01" y1="197.75" x2="115.01" y2="201.05" stroke="#000" stroke-width="0.98"/>
<line x1="137.36" y1="197.75" x2="137.36" y2="201.05" stroke="#000" stroke-width="0.98"/>
<line x1="159.72" y1="197.75" x2="159.72" y2="201.05" stroke="#000" stroke-width="0.98"/>
<line x1="182.07" y1="197.75" x2="182.07" y2="201.05" stroke="#000" stroke-width="0.98"/>
<line x1="204.42" y1="197.75" x2="204.42" y2="201.05" stroke="#000" stroke-width="0.98"/>
<line x1="226.78" y1="197.75" x2="226.78" y2="203.45" stroke="#000" stroke-width="1.30"/>
<line x1="249.13" y1="197.75" x2="249.13" y2="201.05" stroke="#000" stroke-width="0.98"/>
<line x1="271.48" y1="197.75" x2="271.48" y2="201.05" stroke="#000" stroke-width="0.98"/>
<line x1="293.84" y1="197.75" x2="293.84" y2="201.05" stroke="#000" stroke-width="0.98"/>
<line x1="316.19" y1="197.75" x2="316.19" y2="201.05" stroke="#000" stroke-width="0.98"/>
<line x1="338.55" y1="197.75" x2="338.55" y2="201.05" stroke="#000" stroke-width="0.98"/>
<line x1="360.90" y1="197.75" x2="360.90" y2="203.45" stroke="#000" stroke-width="1.30"/>
<rect x="418.95" y="22.50" width="290.65" height="175.25" fill="none" stroke="#000" stroke-width="1.30"/>
<line x1="418.95" y1="197.75" x2="418.95" y2="201.05" stroke="#000" stroke-width="0.98"/>
<line x1="441.31" y1="197.75" x2="441.31" y2="203.45" stroke="#000" stroke-width="1.30"/>
<line x1="463.67" y1="197.75" x2="463.67" y2="201.05" stroke="#000" stroke-width="0.98"/>
<line x1="486.02" y1="197.75" x2="486.02" y2="201.05" stroke="#000" stroke-width="0.98"/>
<line x1="508.38" y1="197.75" x2="508.38" y2="201.05" stroke="#000" stroke-width="0.98"/>
<line x1="530.74" y1="197.75" x2="530.74" y2="201.05" stroke="#000" stroke-width="0.98"/>
<line x1="553.10" y1="197.75" x2="553.10" y2="201.05" stroke="#000" stroke-width="0.98"/>
<line x1="575.45" y1="197.75" x2="575.45" y2="203.45" stroke="#000" stroke-width="1.30"/>
<line x1="597.81" y1="197.75" x2="597.81" y2="201.05" stroke="#000" stroke-width="0.98"/>
<line x1="620.17" y1="197.75" x2="620.17" y2="201.05" stroke="#000" stroke-width="0.98"/>
<line x1="642.53" y1="197.75" x2="642.53" y2="201.05" stroke="#000" stroke-width="0.98"/>
<line x1="664.88" y1="197.75" x2="664.88" y2="201.05" stroke="#000" stroke-width="0.98"/>
<line x1="687.24" y1="197.75" x2="687.24" y2="201.05" stroke="#000" stroke-width="0.98"/>
<line x1="709.60" y1="197.75" x2="709.60" y2="203.45" stroke="#000" stroke-width="1.30"/>
<rect x="70.30" y="233.45" width="290.60" height="175.45" fill="none" stroke="#000" stroke-width="1.30"/>
<line x1="70.30" y1="408.90" x2="70.30" y2="412.20" stroke="#000" stroke-width="0.98"/>
<line x1="92.65" y1="408.90" x2="92.65" y2="414.60" stroke="#000" stroke-width="1.30"/>
<line x1="115.01" y1="408.90" x2="115.01" y2="412.20" stroke="#000" stroke-width="0.98"/>
<line x1="137.36" y1="408.90" x2="137.36" y2="412.20" stroke="#000" stroke-width="0.98"/>
<line x1="159.72" y1="408.90" x2="159.72" y2="412.20" stroke="#000" stroke-width="0.98"/>
<line x1="182.07" y1="408.90" x2="182.07" y2="412.20" stroke="#000" stroke-width="0.98"/>
<line x1="204.42" y1="408.90" x2="204.42" y2="412.20" stroke="#000" stroke-width="0.98"/>
<line x1="226.78" y1="408.90" x2="226.78" y2="414.60" stroke="#000" stroke-width="1.30"/>
<line x1="249.13" y1="408.90" x2="249.13" y2="412.20" stroke="#000" stroke-width="0.98"/>
<line x1="271.48" y1="408.90" x2="271.48" y2="412.20" stroke="#000" stroke-width="0.98"/>
<line x1="293.84" y1="408.90" x2="293.84" y2="412.20" stroke="#000" stroke-width="0.98"/>
<line x1="316.19" y1="408.90" x2="316.19" y2="412.20" stroke="#000" stroke-width="0.98"/>
<line x1="338.55" y1="408.90" x2="338.55" y2="412.20" stroke="#000" stroke-width="0.98"/>
<line x1="360.90" y1="408.90" x2="360.90" y2="414.60" stroke="#000" stroke-width="1.30"/>
<rect x="418.95" y="233.45" width="290.65" height="175.45" fill="none" stroke="#000" stroke-width="1.30"/>
<line x1="418.95" y1="408.90" x2="418.95" y2="412.20" stroke="#000" stroke-width="0.98"/>
<line x1="441.31" y1="408.90" x2="441.31" y2="414.60" stroke="#000" stroke-width="1.30"/>
<line x1="463.67" y1="408.90" x2="463.67" y2="412.20" stroke="#000" stroke-width="0.98"/>
<line x1="486.02" y1="408.90" x2="486.02" y2="412.20" stroke="#000" stroke-width="0.98"/>
<line x1="508.38" y1="408.90" x2="508.38" y2="412.20" stroke="#000" stroke-width="0.98"/>
<line x1="530.74" y1="408.90" x2="530.74" y2="412.20" stroke="#000" stroke-width="0.98"/>
<line x1="553.10" y1="408.90" x2="553.10" y2="412.20" stroke="#000" stroke-width="0.98"/>
<line x1="575.45" y1="408.90" x2="575.45" y2="414.60" stroke="#000" stroke-width="1.30"/>
<line x1="597.81" y1="408.90" x2="597.81" y2="412.20" stroke="#000" stroke-width="0.98"/>
<line x1="620.17" y1="408.90" x2="620.17" y2="412.20" stroke="#000" stroke-width="0.98"/>
<line x1="642.53" y1="408.90" x2="642.53" y2="412.20" stroke="#000" stroke-width="0.98"/>
<line x1="664.88" y1="408.90" x2="664.88" y2="412.20" stroke="#000" stroke-width="0.98"/>
<line x1="687.24" y1="408.90" x2="687.24" y2="412.20" stroke="#000" stroke-width="0.98"/>
<line x1="709.60" y1="408.90" x2="709.60" y2="414.60" stroke="#000" stroke-width="1.30"/>
<line x1="64.60" y1="27.90" x2="70.30" y2="27.90" stroke="#000" stroke-width="1.30"/>
<line x1="64.60" y1="69.45" x2="70.30" y2="69.45" stroke="#000" stroke-width="1.30"/>
<line x1="64.60" y1="111.00" x2="70.30" y2="111.00" stroke="#000" stroke-width="1.30"/>
<line x1="64.60" y1="152.55" x2="70.30" y2="152.55" stroke="#000" stroke-width="1.30"/>
<line x1="64.60" y1="194.10" x2="70.30" y2="194.10" stroke="#000" stroke-width="1.30"/>
<line x1="413.25" y1="29.10" x2="418.95" y2="29.10" stroke="#000" stroke-width="1.30"/>
<line x1="413.25" y1="69.30" x2="418.95" y2="69.30" stroke="#000" stroke-width="1.30"/>
<line x1="413.25" y1="109.50" x2="418.95" y2="109.50" stroke="#000" stroke-width="1.30"/>
<line x1="413.25" y1="149.70" x2="418.95" y2="149.70" stroke="#000" stroke-width="1.30"/>
<line x1="413.25" y1="189.90" x2="418.95" y2="189.90" stroke="#000" stroke-width="1.30"/>
<line x1="64.60" y1="269.50" x2="70.30" y2="269.50" stroke="#000" stroke-width="1.30"/>
<line x1="64.60" y1="312.83" x2="70.30" y2="312.83" stroke="#000" stroke-width="1.30"/>
<line x1="64.60" y1="356.17" x2="70.30" y2="356.17" stroke="#000" stroke-width="1.30"/>
<line x1="64.60" y1="399.50" x2="70.30" y2="399.50" stroke="#000" stroke-width="1.30"/>
<line x1="413.25" y1="256.30" x2="418.95" y2="256.30" stroke="#000" stroke-width="1.30"/>
<line x1="413.25" y1="323.00" x2="418.95" y2="323.00" stroke="#000" stroke-width="1.30"/>
<line x1="413.25" y1="389.70" x2="418.95" y2="389.70" stroke="#000" stroke-width="1.30"/>
<text x="33.10" y="33.87" textLength="25.21" lengthAdjust="spacingAndGlyphs" style="font-size:17.35px">1.0</text>
<text x="33.40" y="75.42" textLength="24.95" lengthAdjust="spacingAndGlyphs" style="font-size:17.35px">0.5</text>
<text x="33.05" y="116.97" textLength="25.26" lengthAdjust="spacingAndGlyphs" style="font-size:17.35px">0.0</text>
<text x="20.10" y="158.52" textLength="38.31" lengthAdjust="spacingAndGlyphs" style="font-size:17.35px">−0.5</text>
<text x="19.75" y="200.07" textLength="38.61" lengthAdjust="spacingAndGlyphs" style="font-size:17.35px">−1.0</text>
<text x="397.85" y="35.16" textLength="9.24" lengthAdjust="spacingAndGlyphs" style="font-size:17.35px">2</text>
<text x="397.90" y="75.27" textLength="9.15" lengthAdjust="spacingAndGlyphs" style="font-size:17.35px">1</text>
<text x="397.34" y="115.47" textLength="9.59" lengthAdjust="spacingAndGlyphs" style="font-size:17.35px">0</text>
<text x="384.40" y="155.67" textLength="22.83" lengthAdjust="spacingAndGlyphs" style="font-size:17.35px">−1</text>
<text x="384.53" y="195.96" textLength="22.72" lengthAdjust="spacingAndGlyphs" style="font-size:17.35px">−2</text>
<text x="49.24" y="275.38" textLength="9.05" lengthAdjust="spacingAndGlyphs" style="font-size:17.35px">5</text>
<text x="48.69" y="318.80" textLength="9.59" lengthAdjust="spacingAndGlyphs" style="font-size:17.35px">0</text>
<text x="35.67" y="362.05" textLength="22.76" lengthAdjust="spacingAndGlyphs" style="font-size:17.35px">−5</text>
<text x="24.94" y="405.47" textLength="33.43" lengthAdjust="spacingAndGlyphs" style="font-size:17.35px">−10</text>
<text x="376.54" y="262.27" textLength="30.43" lengthAdjust="spacingAndGlyphs" style="font-size:17.35px">100</text>
<text x="397.34" y="328.97" textLength="9.59" lengthAdjust="spacingAndGlyphs" style="font-size:17.35px">0</text>
<text x="363.20" y="395.67" textLength="43.81" lengthAdjust="spacingAndGlyphs" style="font-size:17.35px">−100</text>
<text x="87.86" y="432.00" textLength="9.59" lengthAdjust="spacingAndGlyphs" style="font-size:17.35px">0</text>
<text x="216.57" y="432.00" textLength="20.21" lengthAdjust="spacingAndGlyphs" style="font-size:17.35px">60</text>
<text x="345.35" y="432.00" textLength="30.43" lengthAdjust="spacingAndGlyphs" style="font-size:17.35px">120</text>
<text x="436.52" y="432.00" textLength="9.59" lengthAdjust="spacingAndGlyphs" style="font-size:17.35px">0</text>
<text x="565.24" y="432.00" textLength="20.21" lengthAdjust="spacingAndGlyphs" style="font-size:17.35px">60</text>
<text x="694.05" y="432.00" textLength="30.43" lengthAdjust="spacingAndGlyphs" style="font-size:17.35px">120</text>
<text x="122.54" y="17.85" textLength="185.24" lengthAdjust="spacingAndGlyphs" style="font-size:22.50px">Deep Moonquake</text>
<text x="470.21" y="17.85" textLength="186.32" lengthAdjust="spacingAndGlyphs" style="font-size:22.50px">Meteoroid Impact</text>
<text x="110.01" y="228.80" textLength="211.17" lengthAdjust="spacingAndGlyphs" style="font-size:22.50px">Shallow Moonquake</text>
<text x="483.88" y="228.80" textLength="160.93" lengthAdjust="spacingAndGlyphs" style="font-size:22.50px">Artifical Impact</text>
<text x="184.25" y="192.20" textLength="172.96" lengthAdjust="spacingAndGlyphs" style="font-size:17.35px">1973-06-05 11:12:18</text>
<text x="533.23" y="192.20" textLength="172.81" lengthAdjust="spacingAndGlyphs" style="font-size:17.35px">1972-05-11 13:34:37</text>
<text x="184.44" y="403.35" textLength="172.78" lengthAdjust="spacingAndGlyphs" style="font-size:17.35px">1973-03-13 08:01:33</text>
<text x="533.47" y="403.35" textLength="172.56" lengthAdjust="spacingAndGlyphs" style="font-size:17.35px">1971-02-04 07:41:32</text>
<text x="114.44" y="454.60" textLength="201.61" lengthAdjust="spacingAndGlyphs" style="font-size:17.35px">Minutes afer arrival time</text>
<text x="459.90" y="454.60" textLength="208.03" lengthAdjust="spacingAndGlyphs" style="font-size:17.35px">Minutes after arrival time</text>
<text transform="translate(17.80 141.72) rotate(-90)" x="0" y="0" textLength="31.89" lengthAdjust="spacingAndGlyphs" style="font-size:17.35px">x10</text>
<text transform="translate(11.10 108.59) rotate(-90)" x="0" y="0" textLength="6.98" lengthAdjust="spacingAndGlyphs" style="font-size:12.14px">9</text>
<text transform="translate(17.80 93.65) rotate(-90)" x="0" y="0" textLength="15.69" lengthAdjust="spacingAndGlyphs" style="font-size:17.35px">m</text>
<text transform="translate(22.90 352.87) rotate(-90)" x="0" y="0" textLength="31.89" lengthAdjust="spacingAndGlyphs" style="font-size:17.35px">x10</text>
<text transform="translate(16.20 319.74) rotate(-90)" x="0" y="0" textLength="6.98" lengthAdjust="spacingAndGlyphs" style="font-size:12.14px">9</text>
<text transform="translate(22.90 304.80) rotate(-90)" x="0" y="0" textLength="15.69" lengthAdjust="spacingAndGlyphs" style="font-size:17.35px">m</text>
</svg>
</body></html>
